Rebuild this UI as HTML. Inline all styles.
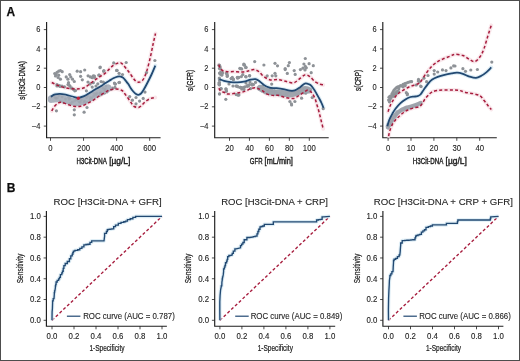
<!DOCTYPE html>
<html><head><meta charset="utf-8"><style>
html,body{margin:0;padding:0;background:#fff;}
body{width:520px;height:361px;overflow:hidden;}
svg{display:block;font-family:"Liberation Sans", sans-serif;}
</style></head><body>
<svg width="520" height="361" viewBox="0 0 520 361">
<defs><filter id="bl" x="0" y="0" width="520" height="361" filterUnits="userSpaceOnUse"><feGaussianBlur stdDeviation="0.3"/></filter></defs>
<g filter="url(#bl)">
<rect x="0" y="0" width="520" height="361" fill="#fff"/>
<path d="M46.6,22.0 V137.7 H160.6" fill="none" stroke="#1e1e1e" stroke-width="1.15"/>
<path d="M43.800000000000004,29.60 H46.6" stroke="#1e1e1e" stroke-width="0.8"/>
<text x="0" y="0" font-size="8.7" text-anchor="end" transform="translate(40.4 32.2) scale(0.86 1)" fill="#1c1c1c" stroke="#222" stroke-width="0.1">6</text>
<path d="M43.800000000000004,48.90 H46.6" stroke="#1e1e1e" stroke-width="0.8"/>
<text x="0" y="0" font-size="8.7" text-anchor="end" transform="translate(40.4 51.5) scale(0.86 1)" fill="#1c1c1c" stroke="#222" stroke-width="0.1">4</text>
<path d="M43.800000000000004,68.20 H46.6" stroke="#1e1e1e" stroke-width="0.8"/>
<text x="0" y="0" font-size="8.7" text-anchor="end" transform="translate(40.4 70.8) scale(0.86 1)" fill="#1c1c1c" stroke="#222" stroke-width="0.1">2</text>
<path d="M43.800000000000004,87.50 H46.6" stroke="#1e1e1e" stroke-width="0.8"/>
<text x="0" y="0" font-size="8.7" text-anchor="end" transform="translate(40.4 90.1) scale(0.86 1)" fill="#1c1c1c" stroke="#222" stroke-width="0.1">0</text>
<path d="M43.800000000000004,106.80 H46.6" stroke="#1e1e1e" stroke-width="0.8"/>
<text x="0" y="0" font-size="8.7" text-anchor="end" transform="translate(40.4 109.4) scale(0.86 1)" fill="#1c1c1c" stroke="#222" stroke-width="0.1">–2</text>
<path d="M43.800000000000004,126.10 H46.6" stroke="#1e1e1e" stroke-width="0.8"/>
<text x="0" y="0" font-size="8.7" text-anchor="end" transform="translate(40.4 128.7) scale(0.86 1)" fill="#1c1c1c" stroke="#222" stroke-width="0.1">–4</text>
<path d="M50.50,137.7 V140.79999999999998" stroke="#1e1e1e" stroke-width="0.8"/>
<text x="0" y="0" font-size="8.8" text-anchor="middle" transform="translate(50.5 151.0) scale(0.88 1)" fill="#1c1c1c" stroke="#222" stroke-width="0.1">0</text>
<path d="M83.56,137.7 V140.79999999999998" stroke="#1e1e1e" stroke-width="0.8"/>
<text x="0" y="0" font-size="8.8" text-anchor="middle" transform="translate(83.56 151.0) scale(0.88 1)" fill="#1c1c1c" stroke="#222" stroke-width="0.1">200</text>
<path d="M116.62,137.7 V140.79999999999998" stroke="#1e1e1e" stroke-width="0.8"/>
<text x="0" y="0" font-size="8.8" text-anchor="middle" transform="translate(116.62 151.0) scale(0.88 1)" fill="#1c1c1c" stroke="#222" stroke-width="0.1">400</text>
<path d="M149.68,137.7 V140.79999999999998" stroke="#1e1e1e" stroke-width="0.8"/>
<text x="0" y="0" font-size="8.8" text-anchor="middle" transform="translate(149.68 151.0) scale(0.88 1)" fill="#1c1c1c" stroke="#222" stroke-width="0.1">600</text>
<text x="76.4" y="164.0" font-size="8.9" textLength="30.4" lengthAdjust="spacingAndGlyphs" fill="#1c1c1c" stroke="#1c1c1c" stroke-width="0.4">H3Cit-DNA</text>
<text x="109.2" y="164.0" font-size="8.9" textLength="21.2" lengthAdjust="spacingAndGlyphs" fill="#1c1c1c" stroke="#1c1c1c" stroke-width="0.4">[µg/L]</text>
<text x="25.200000000000003" y="80.4" font-size="8.6" text-anchor="middle" textLength="38.5" lengthAdjust="spacingAndGlyphs" transform="rotate(-90 25.200000000000003 80.4)" fill="#1c1c1c" stroke="#1c1c1c" stroke-width="0.3">s(H3Cit-DNA)</text>
<path d="M214.7,22.0 V137.7 H328.7" fill="none" stroke="#1e1e1e" stroke-width="1.15"/>
<path d="M211.89999999999998,29.60 H214.7" stroke="#1e1e1e" stroke-width="0.8"/>
<text x="0" y="0" font-size="8.7" text-anchor="end" transform="translate(208.5 32.2) scale(0.86 1)" fill="#1c1c1c" stroke="#222" stroke-width="0.1">6</text>
<path d="M211.89999999999998,48.90 H214.7" stroke="#1e1e1e" stroke-width="0.8"/>
<text x="0" y="0" font-size="8.7" text-anchor="end" transform="translate(208.5 51.5) scale(0.86 1)" fill="#1c1c1c" stroke="#222" stroke-width="0.1">4</text>
<path d="M211.89999999999998,68.20 H214.7" stroke="#1e1e1e" stroke-width="0.8"/>
<text x="0" y="0" font-size="8.7" text-anchor="end" transform="translate(208.5 70.8) scale(0.86 1)" fill="#1c1c1c" stroke="#222" stroke-width="0.1">2</text>
<path d="M211.89999999999998,87.50 H214.7" stroke="#1e1e1e" stroke-width="0.8"/>
<text x="0" y="0" font-size="8.7" text-anchor="end" transform="translate(208.5 90.1) scale(0.86 1)" fill="#1c1c1c" stroke="#222" stroke-width="0.1">0</text>
<path d="M211.89999999999998,106.80 H214.7" stroke="#1e1e1e" stroke-width="0.8"/>
<text x="0" y="0" font-size="8.7" text-anchor="end" transform="translate(208.5 109.4) scale(0.86 1)" fill="#1c1c1c" stroke="#222" stroke-width="0.1">–2</text>
<path d="M211.89999999999998,126.10 H214.7" stroke="#1e1e1e" stroke-width="0.8"/>
<text x="0" y="0" font-size="8.7" text-anchor="end" transform="translate(208.5 128.7) scale(0.86 1)" fill="#1c1c1c" stroke="#222" stroke-width="0.1">–4</text>
<path d="M229.50,137.7 V140.79999999999998" stroke="#1e1e1e" stroke-width="0.8"/>
<text x="0" y="0" font-size="8.8" text-anchor="middle" transform="translate(229.5 151.0) scale(0.88 1)" fill="#1c1c1c" stroke="#222" stroke-width="0.1">20</text>
<path d="M249.45,137.7 V140.79999999999998" stroke="#1e1e1e" stroke-width="0.8"/>
<text x="0" y="0" font-size="8.8" text-anchor="middle" transform="translate(249.45 151.0) scale(0.88 1)" fill="#1c1c1c" stroke="#222" stroke-width="0.1">40</text>
<path d="M269.40,137.7 V140.79999999999998" stroke="#1e1e1e" stroke-width="0.8"/>
<text x="0" y="0" font-size="8.8" text-anchor="middle" transform="translate(269.4 151.0) scale(0.88 1)" fill="#1c1c1c" stroke="#222" stroke-width="0.1">60</text>
<path d="M289.35,137.7 V140.79999999999998" stroke="#1e1e1e" stroke-width="0.8"/>
<text x="0" y="0" font-size="8.8" text-anchor="middle" transform="translate(289.35 151.0) scale(0.88 1)" fill="#1c1c1c" stroke="#222" stroke-width="0.1">80</text>
<path d="M309.30,137.7 V140.79999999999998" stroke="#1e1e1e" stroke-width="0.8"/>
<text x="0" y="0" font-size="8.8" text-anchor="middle" transform="translate(309.3 151.0) scale(0.88 1)" fill="#1c1c1c" stroke="#222" stroke-width="0.1">100</text>
<text x="249.8" y="164.0" font-size="8.9" textLength="12.7" lengthAdjust="spacingAndGlyphs" fill="#1c1c1c" stroke="#1c1c1c" stroke-width="0.4">GFR</text>
<text x="264.6" y="164.0" font-size="8.9" textLength="28.3" lengthAdjust="spacingAndGlyphs" fill="#1c1c1c" stroke="#1c1c1c" stroke-width="0.4">[mL/min]</text>
<text x="193.29999999999998" y="80.4" font-size="8.6" text-anchor="middle" textLength="21.1" lengthAdjust="spacingAndGlyphs" transform="rotate(-90 193.29999999999998 80.4)" fill="#1c1c1c" stroke="#1c1c1c" stroke-width="0.3">s(GFR)</text>
<path d="M382.8,22.0 V137.7 H496.8" fill="none" stroke="#1e1e1e" stroke-width="1.15"/>
<path d="M380.0,29.60 H382.8" stroke="#1e1e1e" stroke-width="0.8"/>
<text x="0" y="0" font-size="8.7" text-anchor="end" transform="translate(376.6 32.2) scale(0.86 1)" fill="#1c1c1c" stroke="#222" stroke-width="0.1">6</text>
<path d="M380.0,48.90 H382.8" stroke="#1e1e1e" stroke-width="0.8"/>
<text x="0" y="0" font-size="8.7" text-anchor="end" transform="translate(376.6 51.5) scale(0.86 1)" fill="#1c1c1c" stroke="#222" stroke-width="0.1">4</text>
<path d="M380.0,68.20 H382.8" stroke="#1e1e1e" stroke-width="0.8"/>
<text x="0" y="0" font-size="8.7" text-anchor="end" transform="translate(376.6 70.8) scale(0.86 1)" fill="#1c1c1c" stroke="#222" stroke-width="0.1">2</text>
<path d="M380.0,87.50 H382.8" stroke="#1e1e1e" stroke-width="0.8"/>
<text x="0" y="0" font-size="8.7" text-anchor="end" transform="translate(376.6 90.1) scale(0.86 1)" fill="#1c1c1c" stroke="#222" stroke-width="0.1">0</text>
<path d="M380.0,106.80 H382.8" stroke="#1e1e1e" stroke-width="0.8"/>
<text x="0" y="0" font-size="8.7" text-anchor="end" transform="translate(376.6 109.4) scale(0.86 1)" fill="#1c1c1c" stroke="#222" stroke-width="0.1">–2</text>
<path d="M380.0,126.10 H382.8" stroke="#1e1e1e" stroke-width="0.8"/>
<text x="0" y="0" font-size="8.7" text-anchor="end" transform="translate(376.6 128.7) scale(0.86 1)" fill="#1c1c1c" stroke="#222" stroke-width="0.1">–4</text>
<path d="M388.10,137.7 V140.79999999999998" stroke="#1e1e1e" stroke-width="0.8"/>
<text x="0" y="0" font-size="8.8" text-anchor="middle" transform="translate(388.1 151.0) scale(0.88 1)" fill="#1c1c1c" stroke="#222" stroke-width="0.1">0</text>
<path d="M411.00,137.7 V140.79999999999998" stroke="#1e1e1e" stroke-width="0.8"/>
<text x="0" y="0" font-size="8.8" text-anchor="middle" transform="translate(411.0 151.0) scale(0.88 1)" fill="#1c1c1c" stroke="#222" stroke-width="0.1">10</text>
<path d="M433.90,137.7 V140.79999999999998" stroke="#1e1e1e" stroke-width="0.8"/>
<text x="0" y="0" font-size="8.8" text-anchor="middle" transform="translate(433.9 151.0) scale(0.88 1)" fill="#1c1c1c" stroke="#222" stroke-width="0.1">20</text>
<path d="M456.80,137.7 V140.79999999999998" stroke="#1e1e1e" stroke-width="0.8"/>
<text x="0" y="0" font-size="8.8" text-anchor="middle" transform="translate(456.8 151.0) scale(0.88 1)" fill="#1c1c1c" stroke="#222" stroke-width="0.1">30</text>
<path d="M479.70,137.7 V140.79999999999998" stroke="#1e1e1e" stroke-width="0.8"/>
<text x="0" y="0" font-size="8.8" text-anchor="middle" transform="translate(479.7 151.0) scale(0.88 1)" fill="#1c1c1c" stroke="#222" stroke-width="0.1">40</text>
<text x="412.8" y="164.0" font-size="8.9" textLength="30.6" lengthAdjust="spacingAndGlyphs" fill="#1c1c1c" stroke="#1c1c1c" stroke-width="0.4">H3Cit-DNA</text>
<text x="445.6" y="164.0" font-size="8.9" textLength="21.2" lengthAdjust="spacingAndGlyphs" fill="#1c1c1c" stroke="#1c1c1c" stroke-width="0.4">[µg/L]</text>
<text x="361.40000000000003" y="80.4" font-size="8.6" text-anchor="middle" textLength="21.1" lengthAdjust="spacingAndGlyphs" transform="rotate(-90 361.40000000000003 80.4)" fill="#1c1c1c" stroke="#1c1c1c" stroke-width="0.3">s(CRP)</text>
<path d="M51.80,82.50 C52.75,82.97 55.38,84.47 57.50,85.30 C59.62,86.13 62.00,86.92 64.50,87.50 C67.00,88.08 70.00,88.58 72.50,88.80 C75.00,89.02 77.42,89.03 79.50,88.80 C81.58,88.57 83.25,88.25 85.00,87.40 C86.75,86.55 88.33,84.93 90.00,83.70 C91.67,82.47 93.33,81.18 95.00,80.00 C96.67,78.82 98.33,77.72 100.00,76.60 C101.67,75.48 103.47,74.55 105.00,73.30 C106.53,72.05 107.82,70.42 109.20,69.10 C110.58,67.78 111.92,66.37 113.30,65.40 C114.68,64.43 116.25,63.72 117.50,63.30 C118.75,62.88 119.83,62.62 120.80,62.90 C121.77,63.18 122.33,63.97 123.30,65.00 C124.27,66.03 125.50,67.72 126.60,69.10 C127.70,70.48 128.78,71.77 129.90,73.30 C131.02,74.83 132.28,76.97 133.30,78.30 C134.32,79.63 135.10,80.65 136.00,81.30 C136.90,81.95 137.87,82.17 138.70,82.20 C139.53,82.23 140.20,82.03 141.00,81.50 C141.80,80.97 142.53,80.75 143.50,79.00 C144.47,77.25 145.65,74.67 146.80,71.00 C147.95,67.33 149.35,61.50 150.40,57.00 C151.45,52.50 152.25,47.92 153.10,44.00 C153.95,40.08 155.10,35.25 155.50,33.50" fill="none" stroke="#f8e1e6" stroke-width="3.9" stroke-linecap="round" stroke-linejoin="round" opacity="0.8"/>
<path d="M51.80,111.00 C52.18,110.32 53.15,108.15 54.10,106.90 C55.05,105.65 56.35,104.27 57.50,103.50 C58.65,102.73 59.45,102.22 61.00,102.30 C62.55,102.38 64.68,103.33 66.80,104.00 C68.92,104.67 71.40,105.92 73.70,106.30 C76.00,106.68 78.30,106.77 80.60,106.30 C82.90,105.83 85.18,104.65 87.50,103.50 C89.82,102.35 92.42,100.73 94.50,99.40 C96.58,98.07 97.88,96.87 100.00,95.50 C102.12,94.13 105.53,92.15 107.20,91.20 C108.87,90.25 108.50,90.17 110.00,89.80 C111.50,89.43 114.20,88.88 116.20,89.00 C118.20,89.12 120.53,89.67 122.00,90.50 C123.47,91.33 123.87,92.53 125.00,94.00 C126.13,95.47 127.63,97.63 128.80,99.30 C129.97,100.97 131.10,102.80 132.00,104.00 C132.90,105.20 133.08,105.93 134.20,106.50 C135.32,107.07 137.40,107.65 138.70,107.40 C140.00,107.15 140.95,105.90 142.00,105.00 C143.05,104.10 143.92,102.92 145.00,102.00 C146.08,101.08 147.30,100.17 148.50,99.50 C149.70,98.83 151.07,98.33 152.20,98.00 C153.33,97.67 154.78,97.58 155.30,97.50" fill="none" stroke="#f8e1e6" stroke-width="3.9" stroke-linecap="round" stroke-linejoin="round" opacity="0.8"/>
<path d="M51.00,96.80 C51.33,96.55 52.30,95.72 53.00,95.30 C53.70,94.88 54.07,94.55 55.20,94.30 C56.33,94.05 58.07,93.73 59.80,93.80 C61.53,93.87 63.48,94.25 65.60,94.70 C67.72,95.15 70.38,95.98 72.50,96.50 C74.62,97.02 76.37,97.85 78.30,97.80 C80.23,97.75 82.18,97.03 84.10,96.20 C86.02,95.37 87.98,93.92 89.80,92.80 C91.62,91.68 93.03,90.67 95.00,89.50 C96.97,88.33 99.93,86.83 101.60,85.80 C103.27,84.77 103.73,84.13 105.00,83.30 C106.27,82.47 107.82,81.63 109.20,80.80 C110.58,79.97 111.92,79.00 113.30,78.30 C114.68,77.60 116.25,76.88 117.50,76.60 C118.75,76.32 119.83,76.38 120.80,76.60 C121.77,76.82 122.47,77.20 123.30,77.90 C124.13,78.60 124.97,79.77 125.80,80.80 C126.63,81.83 127.47,82.85 128.30,84.10 C129.13,85.35 129.97,87.07 130.80,88.30 C131.63,89.53 132.43,90.55 133.30,91.50 C134.17,92.45 135.13,93.45 136.00,94.00 C136.87,94.55 137.67,94.88 138.50,94.80 C139.33,94.72 140.17,94.30 141.00,93.50 C141.83,92.70 142.53,91.58 143.50,90.00 C144.47,88.42 145.50,86.50 146.80,84.00 C148.10,81.50 149.88,78.05 151.30,75.00 C152.72,71.95 154.63,67.25 155.30,65.70" fill="none" stroke="#d6e8f3" stroke-width="4.0" stroke-linecap="round" stroke-linejoin="round" opacity="0.8"/>
<circle cx="110" cy="88.6" r="1.6" fill="#8e9297"/>
<circle cx="112.5" cy="88.2" r="1.6" fill="#8e9297"/>
<circle cx="115" cy="87.4" r="1.6" fill="#8e9297"/>
<circle cx="107" cy="91.8" r="1.6" fill="#8e9297"/>
<circle cx="104.5" cy="93" r="1.6" fill="#8e9297"/>
<circle cx="101.5" cy="94.2" r="1.6" fill="#8e9297"/>
<circle cx="99" cy="95.2" r="1.6" fill="#8e9297"/>
<circle cx="57" cy="84.5" r="1.6" fill="#8e9297"/>
<circle cx="59.5" cy="85.5" r="1.6" fill="#8e9297"/>
<circle cx="62" cy="86" r="1.6" fill="#8e9297"/>
<circle cx="64.5" cy="86.8" r="1.6" fill="#8e9297"/>
<circle cx="68" cy="84.5" r="1.6" fill="#8e9297"/>
<circle cx="70" cy="86" r="1.6" fill="#8e9297"/>
<circle cx="72" cy="88" r="1.6" fill="#8e9297"/>
<circle cx="73.5" cy="89.5" r="1.6" fill="#8e9297"/>
<circle cx="88" cy="82" r="1.6" fill="#8e9297"/>
<circle cx="90" cy="84" r="1.6" fill="#8e9297"/>
<circle cx="96" cy="86" r="1.6" fill="#8e9297"/>
<circle cx="99" cy="88" r="1.6" fill="#8e9297"/>
<circle cx="102" cy="90" r="1.6" fill="#8e9297"/>
<circle cx="105" cy="87" r="1.6" fill="#8e9297"/>
<circle cx="98" cy="93" r="1.6" fill="#8e9297"/>
<circle cx="104" cy="92" r="1.6" fill="#8e9297"/>
<circle cx="54.7" cy="73.5" r="1.6" fill="#8e9297"/>
<circle cx="57" cy="72.3" r="1.6" fill="#8e9297"/>
<circle cx="58.7" cy="71.2" r="1.6" fill="#8e9297"/>
<circle cx="60.4" cy="70.6" r="1.6" fill="#8e9297"/>
<circle cx="62.2" cy="71.7" r="1.6" fill="#8e9297"/>
<circle cx="58.7" cy="75.2" r="1.6" fill="#8e9297"/>
<circle cx="58.1" cy="77.5" r="1.6" fill="#8e9297"/>
<circle cx="60.4" cy="79.2" r="1.6" fill="#8e9297"/>
<circle cx="66.2" cy="76.9" r="1.6" fill="#8e9297"/>
<circle cx="67.9" cy="79.2" r="1.6" fill="#8e9297"/>
<circle cx="69.7" cy="74.6" r="1.6" fill="#8e9297"/>
<circle cx="70.8" cy="76.9" r="1.6" fill="#8e9297"/>
<circle cx="72.5" cy="79.2" r="1.6" fill="#8e9297"/>
<circle cx="74.3" cy="81.5" r="1.6" fill="#8e9297"/>
<circle cx="77.2" cy="71.2" r="1.6" fill="#8e9297"/>
<circle cx="80.6" cy="71.7" r="1.6" fill="#8e9297"/>
<circle cx="84.7" cy="70" r="1.6" fill="#8e9297"/>
<circle cx="80.6" cy="76.3" r="1.6" fill="#8e9297"/>
<circle cx="82.3" cy="79.8" r="1.6" fill="#8e9297"/>
<circle cx="88.1" cy="75.8" r="1.6" fill="#8e9297"/>
<circle cx="90.4" cy="76.9" r="1.6" fill="#8e9297"/>
<circle cx="93.3" cy="75.8" r="1.6" fill="#8e9297"/>
<circle cx="94.5" cy="77.5" r="1.6" fill="#8e9297"/>
<circle cx="100.2" cy="67.1" r="1.6" fill="#8e9297"/>
<circle cx="99.1" cy="75.2" r="1.6" fill="#8e9297"/>
<circle cx="68.5" cy="82.7" r="1.6" fill="#8e9297"/>
<circle cx="56" cy="74.5" r="1.6" fill="#8e9297"/>
<circle cx="55.5" cy="76" r="1.6" fill="#8e9297"/>
<circle cx="57" cy="86" r="1.6" fill="#8e9297"/>
<circle cx="60" cy="86.5" r="1.6" fill="#8e9297"/>
<circle cx="69" cy="85" r="1.6" fill="#8e9297"/>
<circle cx="71" cy="88" r="1.6" fill="#8e9297"/>
<circle cx="75.5" cy="90.5" r="1.6" fill="#8e9297"/>
<circle cx="86.4" cy="90.8" r="1.6" fill="#8e9297"/>
<circle cx="92.2" cy="77.7" r="1.6" fill="#8e9297"/>
<circle cx="94.4" cy="76.1" r="1.6" fill="#8e9297"/>
<circle cx="98.9" cy="75" r="1.6" fill="#8e9297"/>
<circle cx="103.9" cy="70.5" r="1.6" fill="#8e9297"/>
<circle cx="113.7" cy="62.9" r="1.6" fill="#8e9297"/>
<circle cx="126.2" cy="62.5" r="1.6" fill="#8e9297"/>
<circle cx="116.6" cy="70.4" r="1.6" fill="#8e9297"/>
<circle cx="119.1" cy="73.3" r="1.6" fill="#8e9297"/>
<circle cx="122.5" cy="74.5" r="1.6" fill="#8e9297"/>
<circle cx="93.3" cy="82.7" r="1.6" fill="#8e9297"/>
<circle cx="97.8" cy="83.8" r="1.6" fill="#8e9297"/>
<circle cx="101.1" cy="81.6" r="1.6" fill="#8e9297"/>
<circle cx="103.3" cy="82.1" r="1.6" fill="#8e9297"/>
<circle cx="114.9" cy="83.8" r="1.6" fill="#8e9297"/>
<circle cx="119.5" cy="82.4" r="1.6" fill="#8e9297"/>
<circle cx="115.4" cy="84.1" r="1.6" fill="#8e9297"/>
<circle cx="108.3" cy="86.6" r="1.6" fill="#8e9297"/>
<circle cx="111.2" cy="89.1" r="1.6" fill="#8e9297"/>
<circle cx="103.3" cy="89.3" r="1.6" fill="#8e9297"/>
<circle cx="100" cy="91.6" r="1.6" fill="#8e9297"/>
<circle cx="96.6" cy="92.1" r="1.6" fill="#8e9297"/>
<circle cx="92.2" cy="87.1" r="1.6" fill="#8e9297"/>
<circle cx="103.6" cy="71.3" r="1.6" fill="#8e9297"/>
<circle cx="100" cy="67.7" r="1.6" fill="#8e9297"/>
<circle cx="117.1" cy="70.4" r="1.6" fill="#8e9297"/>
<circle cx="146.5" cy="72.6" r="1.6" fill="#8e9297"/>
<circle cx="154.9" cy="60.5" r="1.6" fill="#8e9297"/>
<circle cx="114.4" cy="83.1" r="1.6" fill="#8e9297"/>
<circle cx="118.9" cy="82.6" r="1.6" fill="#8e9297"/>
<circle cx="108.1" cy="87.2" r="1.6" fill="#8e9297"/>
<circle cx="103.6" cy="88.5" r="1.6" fill="#8e9297"/>
<circle cx="129.7" cy="96.6" r="1.6" fill="#8e9297"/>
<circle cx="132.4" cy="100.2" r="1.6" fill="#8e9297"/>
<circle cx="136" cy="97.5" r="1.6" fill="#8e9297"/>
<circle cx="136" cy="103.8" r="1.6" fill="#8e9297"/>
<circle cx="139.6" cy="101.1" r="1.6" fill="#8e9297"/>
<circle cx="143.2" cy="98.4" r="1.6" fill="#8e9297"/>
<circle cx="145" cy="92.1" r="1.6" fill="#8e9297"/>
<circle cx="56.4" cy="110.8" r="1.6" fill="#8e9297"/>
<circle cx="74.3" cy="109.8" r="1.6" fill="#8e9297"/>
<circle cx="74.3" cy="114.8" r="1.6" fill="#8e9297"/>
<circle cx="84.1" cy="112.2" r="1.6" fill="#8e9297"/>
<circle cx="87" cy="107.5" r="1.6" fill="#8e9297"/>
<circle cx="74.8" cy="90.8" r="1.6" fill="#8e9297"/>
<path d="M51.50,99.10 C52.25,98.98 54.58,98.48 56.00,98.40 C57.42,98.32 58.33,98.35 60.00,98.60 C61.67,98.85 64.00,99.40 66.00,99.90 C68.00,100.40 70.00,101.18 72.00,101.60 C74.00,102.02 76.00,102.53 78.00,102.40 C80.00,102.27 82.00,101.58 84.00,100.80 C86.00,100.02 88.17,98.73 90.00,97.70 C91.83,96.67 93.33,95.62 95.00,94.60 C96.67,93.58 98.50,92.45 100.00,91.60 C101.50,90.75 102.67,90.08 104.00,89.50 C105.33,88.92 107.33,88.33 108.00,88.10" fill="none" stroke="#abb2bd" stroke-width="7.6" stroke-linecap="round" stroke-linejoin="round"/>
<circle cx="51.60" cy="96.54" r="1.35" fill="#9ca2ab" fill-opacity="0.6"/>
<circle cx="53.50" cy="95.67" r="1.35" fill="#9ca2ab" fill-opacity="0.6"/>
<circle cx="55.16" cy="97.55" r="1.35" fill="#9ca2ab" fill-opacity="0.6"/>
<circle cx="56.07" cy="98.46" r="1.35" fill="#9ca2ab" fill-opacity="0.6"/>
<circle cx="57.41" cy="97.99" r="1.35" fill="#9ca2ab" fill-opacity="0.6"/>
<circle cx="58.91" cy="95.59" r="1.35" fill="#9ca2ab" fill-opacity="0.6"/>
<circle cx="60.14" cy="101.04" r="1.35" fill="#9ca2ab" fill-opacity="0.6"/>
<circle cx="62.11" cy="97.02" r="1.35" fill="#9ca2ab" fill-opacity="0.6"/>
<circle cx="63.26" cy="102.60" r="1.35" fill="#9ca2ab" fill-opacity="0.6"/>
<circle cx="65.52" cy="99.04" r="1.35" fill="#9ca2ab" fill-opacity="0.6"/>
<circle cx="68.35" cy="97.17" r="1.35" fill="#9ca2ab" fill-opacity="0.6"/>
<circle cx="69.20" cy="99.23" r="1.35" fill="#9ca2ab" fill-opacity="0.6"/>
<circle cx="69.97" cy="98.16" r="1.35" fill="#9ca2ab" fill-opacity="0.6"/>
<circle cx="70.34" cy="103.50" r="1.35" fill="#9ca2ab" fill-opacity="0.6"/>
<circle cx="72.19" cy="102.22" r="1.35" fill="#9ca2ab" fill-opacity="0.6"/>
<circle cx="74.58" cy="101.02" r="1.35" fill="#9ca2ab" fill-opacity="0.6"/>
<circle cx="76.24" cy="98.99" r="1.35" fill="#9ca2ab" fill-opacity="0.6"/>
<circle cx="76.87" cy="100.11" r="1.35" fill="#9ca2ab" fill-opacity="0.6"/>
<circle cx="78.89" cy="101.62" r="1.35" fill="#9ca2ab" fill-opacity="0.6"/>
<circle cx="80.13" cy="102.47" r="1.35" fill="#9ca2ab" fill-opacity="0.6"/>
<circle cx="81.31" cy="100.03" r="1.35" fill="#9ca2ab" fill-opacity="0.6"/>
<circle cx="84.06" cy="102.27" r="1.35" fill="#9ca2ab" fill-opacity="0.6"/>
<circle cx="84.54" cy="101.12" r="1.35" fill="#9ca2ab" fill-opacity="0.6"/>
<circle cx="87.07" cy="102.25" r="1.35" fill="#9ca2ab" fill-opacity="0.6"/>
<circle cx="86.57" cy="97.75" r="1.35" fill="#9ca2ab" fill-opacity="0.6"/>
<circle cx="87.51" cy="95.89" r="1.35" fill="#9ca2ab" fill-opacity="0.6"/>
<circle cx="90.15" cy="99.71" r="1.35" fill="#9ca2ab" fill-opacity="0.6"/>
<circle cx="90.15" cy="97.51" r="1.35" fill="#9ca2ab" fill-opacity="0.6"/>
<circle cx="91.94" cy="97.92" r="1.35" fill="#9ca2ab" fill-opacity="0.6"/>
<circle cx="93.73" cy="96.00" r="1.35" fill="#9ca2ab" fill-opacity="0.6"/>
<circle cx="94.14" cy="93.56" r="1.35" fill="#9ca2ab" fill-opacity="0.6"/>
<circle cx="96.22" cy="94.66" r="1.35" fill="#9ca2ab" fill-opacity="0.6"/>
<circle cx="96.81" cy="93.14" r="1.35" fill="#9ca2ab" fill-opacity="0.6"/>
<circle cx="100.20" cy="95.22" r="1.35" fill="#9ca2ab" fill-opacity="0.6"/>
<circle cx="99.95" cy="93.01" r="1.35" fill="#9ca2ab" fill-opacity="0.6"/>
<circle cx="100.76" cy="92.84" r="1.35" fill="#9ca2ab" fill-opacity="0.6"/>
<circle cx="103.85" cy="93.59" r="1.35" fill="#9ca2ab" fill-opacity="0.6"/>
<circle cx="103.04" cy="88.25" r="1.35" fill="#9ca2ab" fill-opacity="0.6"/>
<circle cx="104.92" cy="90.47" r="1.35" fill="#9ca2ab" fill-opacity="0.6"/>
<circle cx="105.27" cy="88.76" r="1.35" fill="#9ca2ab" fill-opacity="0.6"/>
<circle cx="105.98" cy="85.89" r="1.35" fill="#9ca2ab" fill-opacity="0.6"/>
<path d="M51.80,82.50 C52.75,82.97 55.38,84.47 57.50,85.30 C59.62,86.13 62.00,86.92 64.50,87.50 C67.00,88.08 70.00,88.58 72.50,88.80 C75.00,89.02 77.42,89.03 79.50,88.80 C81.58,88.57 83.25,88.25 85.00,87.40 C86.75,86.55 88.33,84.93 90.00,83.70 C91.67,82.47 93.33,81.18 95.00,80.00 C96.67,78.82 98.33,77.72 100.00,76.60 C101.67,75.48 103.47,74.55 105.00,73.30 C106.53,72.05 107.82,70.42 109.20,69.10 C110.58,67.78 111.92,66.37 113.30,65.40 C114.68,64.43 116.25,63.72 117.50,63.30 C118.75,62.88 119.83,62.62 120.80,62.90 C121.77,63.18 122.33,63.97 123.30,65.00 C124.27,66.03 125.50,67.72 126.60,69.10 C127.70,70.48 128.78,71.77 129.90,73.30 C131.02,74.83 132.28,76.97 133.30,78.30 C134.32,79.63 135.10,80.65 136.00,81.30 C136.90,81.95 137.87,82.17 138.70,82.20 C139.53,82.23 140.20,82.03 141.00,81.50 C141.80,80.97 142.53,80.75 143.50,79.00 C144.47,77.25 145.65,74.67 146.80,71.00 C147.95,67.33 149.35,61.50 150.40,57.00 C151.45,52.50 152.25,47.92 153.10,44.00 C153.95,40.08 155.10,35.25 155.50,33.50" fill="none" stroke="#a61b3c" stroke-width="1.5" stroke-dasharray="3 2.2" stroke-linecap="butt"/>
<path d="M51.80,111.00 C52.18,110.32 53.15,108.15 54.10,106.90 C55.05,105.65 56.35,104.27 57.50,103.50 C58.65,102.73 59.45,102.22 61.00,102.30 C62.55,102.38 64.68,103.33 66.80,104.00 C68.92,104.67 71.40,105.92 73.70,106.30 C76.00,106.68 78.30,106.77 80.60,106.30 C82.90,105.83 85.18,104.65 87.50,103.50 C89.82,102.35 92.42,100.73 94.50,99.40 C96.58,98.07 97.88,96.87 100.00,95.50 C102.12,94.13 105.53,92.15 107.20,91.20 C108.87,90.25 108.50,90.17 110.00,89.80 C111.50,89.43 114.20,88.88 116.20,89.00 C118.20,89.12 120.53,89.67 122.00,90.50 C123.47,91.33 123.87,92.53 125.00,94.00 C126.13,95.47 127.63,97.63 128.80,99.30 C129.97,100.97 131.10,102.80 132.00,104.00 C132.90,105.20 133.08,105.93 134.20,106.50 C135.32,107.07 137.40,107.65 138.70,107.40 C140.00,107.15 140.95,105.90 142.00,105.00 C143.05,104.10 143.92,102.92 145.00,102.00 C146.08,101.08 147.30,100.17 148.50,99.50 C149.70,98.83 151.07,98.33 152.20,98.00 C153.33,97.67 154.78,97.58 155.30,97.50" fill="none" stroke="#a61b3c" stroke-width="1.5" stroke-dasharray="3 2.2" stroke-linecap="butt"/>
<path d="M51.00,96.80 C51.33,96.55 52.30,95.72 53.00,95.30 C53.70,94.88 54.07,94.55 55.20,94.30 C56.33,94.05 58.07,93.73 59.80,93.80 C61.53,93.87 63.48,94.25 65.60,94.70 C67.72,95.15 70.38,95.98 72.50,96.50 C74.62,97.02 76.37,97.85 78.30,97.80 C80.23,97.75 82.18,97.03 84.10,96.20 C86.02,95.37 87.98,93.92 89.80,92.80 C91.62,91.68 93.03,90.67 95.00,89.50 C96.97,88.33 99.93,86.83 101.60,85.80 C103.27,84.77 103.73,84.13 105.00,83.30 C106.27,82.47 107.82,81.63 109.20,80.80 C110.58,79.97 111.92,79.00 113.30,78.30 C114.68,77.60 116.25,76.88 117.50,76.60 C118.75,76.32 119.83,76.38 120.80,76.60 C121.77,76.82 122.47,77.20 123.30,77.90 C124.13,78.60 124.97,79.77 125.80,80.80 C126.63,81.83 127.47,82.85 128.30,84.10 C129.13,85.35 129.97,87.07 130.80,88.30 C131.63,89.53 132.43,90.55 133.30,91.50 C134.17,92.45 135.13,93.45 136.00,94.00 C136.87,94.55 137.67,94.88 138.50,94.80 C139.33,94.72 140.17,94.30 141.00,93.50 C141.83,92.70 142.53,91.58 143.50,90.00 C144.47,88.42 145.50,86.50 146.80,84.00 C148.10,81.50 149.88,78.05 151.30,75.00 C152.72,71.95 154.63,67.25 155.30,65.70" fill="none" stroke="#214872" stroke-width="1.8" stroke-linecap="butt"/>
<path d="M218.80,64.70 C219.15,65.47 219.77,68.15 220.90,69.30 C222.03,70.45 223.42,71.22 225.60,71.60 C227.78,71.98 231.22,71.52 234.00,71.60 C236.78,71.68 239.82,72.23 242.30,72.10 C244.78,71.97 246.97,71.22 248.90,70.80 C250.83,70.38 252.23,69.47 253.90,69.60 C255.57,69.73 257.23,70.43 258.90,71.60 C260.57,72.77 261.97,75.22 263.90,76.60 C265.83,77.98 268.10,79.40 270.50,79.90 C272.90,80.40 275.62,79.32 278.30,79.60 C280.98,79.88 284.10,81.05 286.60,81.60 C289.10,82.15 291.35,83.18 293.30,82.90 C295.25,82.62 296.37,81.23 298.30,79.90 C300.23,78.57 302.97,75.45 304.90,74.90 C306.83,74.35 308.23,75.48 309.90,76.60 C311.57,77.72 313.23,80.35 314.90,81.60 C316.57,82.85 318.52,83.55 319.90,84.10 C321.28,84.65 322.65,84.77 323.20,84.90" fill="none" stroke="#f8e1e6" stroke-width="3.9" stroke-linecap="round" stroke-linejoin="round" opacity="0.8"/>
<path d="M218.80,88.20 C219.15,88.67 219.85,90.23 220.90,91.00 C221.95,91.77 224.03,92.28 225.10,92.80 C226.17,93.32 225.55,94.03 227.30,94.10 C229.05,94.17 232.83,93.62 235.60,93.20 C238.37,92.78 241.13,92.43 243.90,91.60 C246.67,90.77 249.98,88.77 252.20,88.20 C254.42,87.63 255.53,87.78 257.20,88.20 C258.87,88.62 260.53,89.72 262.20,90.70 C263.87,91.68 265.23,93.30 267.20,94.10 C269.17,94.90 272.20,95.30 274.00,95.50 C275.80,95.70 276.17,94.98 278.00,95.30 C279.83,95.62 282.45,96.87 285.00,97.40 C287.55,97.93 290.82,98.92 293.30,98.50 C295.78,98.08 297.95,96.07 299.90,94.90 C301.85,93.73 303.62,92.32 305.00,91.50 C306.38,90.68 307.12,89.83 308.20,90.00 C309.28,90.17 310.38,91.12 311.50,92.50 C312.62,93.88 313.98,96.22 314.90,98.30 C315.82,100.38 316.30,102.68 317.00,105.00 C317.70,107.32 318.43,109.70 319.10,112.20 C319.77,114.70 320.32,117.23 321.00,120.00 C321.68,122.77 322.83,127.33 323.20,128.80" fill="none" stroke="#f8e1e6" stroke-width="3.9" stroke-linecap="round" stroke-linejoin="round" opacity="0.8"/>
<path d="M219.50,79.20 C220.25,79.47 222.15,80.32 224.00,80.80 C225.85,81.28 228.38,81.83 230.60,82.10 C232.82,82.37 235.08,82.48 237.30,82.40 C239.52,82.32 241.68,82.07 243.90,81.60 C246.12,81.13 248.67,80.02 250.60,79.60 C252.53,79.18 254.12,78.90 255.50,79.10 C256.88,79.30 257.50,79.83 258.90,80.80 C260.30,81.77 262.25,83.80 263.90,84.90 C265.55,86.00 267.12,86.85 268.80,87.40 C270.48,87.95 272.70,88.07 274.00,88.20 C275.30,88.33 275.05,88.05 276.60,88.20 C278.15,88.35 281.08,88.68 283.30,89.10 C285.52,89.52 287.97,90.48 289.90,90.70 C291.83,90.92 293.23,90.95 294.90,90.40 C296.57,89.85 298.23,88.53 299.90,87.40 C301.57,86.27 303.33,84.10 304.90,83.60 C306.47,83.10 308.15,83.95 309.30,84.40 C310.45,84.85 310.95,85.37 311.80,86.30 C312.65,87.23 313.53,88.63 314.40,90.00 C315.27,91.37 316.15,93.00 317.00,94.50 C317.85,96.00 318.75,97.58 319.50,99.00 C320.25,100.42 320.83,101.53 321.50,103.00 C322.17,104.47 323.17,107.00 323.50,107.80" fill="none" stroke="#d6e8f3" stroke-width="4.0" stroke-linecap="round" stroke-linejoin="round" opacity="0.8"/>
<circle cx="219" cy="65.2" r="1.6" fill="#8e9297"/>
<circle cx="220.1" cy="66.9" r="1.6" fill="#8e9297"/>
<circle cx="219.5" cy="68.5" r="1.6" fill="#8e9297"/>
<circle cx="220.6" cy="72.4" r="1.6" fill="#8e9297"/>
<circle cx="222.3" cy="73.5" r="1.6" fill="#8e9297"/>
<circle cx="220.1" cy="74.1" r="1.6" fill="#8e9297"/>
<circle cx="221.8" cy="75.2" r="1.6" fill="#8e9297"/>
<circle cx="226.7" cy="73.5" r="1.6" fill="#8e9297"/>
<circle cx="227.3" cy="75.7" r="1.6" fill="#8e9297"/>
<circle cx="231.2" cy="78.5" r="1.6" fill="#8e9297"/>
<circle cx="233.4" cy="79.6" r="1.6" fill="#8e9297"/>
<circle cx="237.8" cy="78" r="1.6" fill="#8e9297"/>
<circle cx="238.9" cy="77.4" r="1.6" fill="#8e9297"/>
<circle cx="240.6" cy="68.5" r="1.6" fill="#8e9297"/>
<circle cx="244.5" cy="65.2" r="1.6" fill="#8e9297"/>
<circle cx="246.1" cy="67.4" r="1.6" fill="#8e9297"/>
<circle cx="242.8" cy="74.6" r="1.6" fill="#8e9297"/>
<circle cx="246.1" cy="76.8" r="1.6" fill="#8e9297"/>
<circle cx="249.5" cy="75.7" r="1.6" fill="#8e9297"/>
<circle cx="219" cy="82.9" r="1.6" fill="#8e9297"/>
<circle cx="219" cy="84.6" r="1.6" fill="#8e9297"/>
<circle cx="221.2" cy="88.5" r="1.6" fill="#8e9297"/>
<circle cx="226.2" cy="89" r="1.6" fill="#8e9297"/>
<circle cx="226.2" cy="91.2" r="1.6" fill="#8e9297"/>
<circle cx="219.5" cy="94" r="1.6" fill="#8e9297"/>
<circle cx="237.3" cy="86.3" r="1.6" fill="#8e9297"/>
<circle cx="240.6" cy="87.4" r="1.6" fill="#8e9297"/>
<circle cx="242.8" cy="87.9" r="1.6" fill="#8e9297"/>
<circle cx="245" cy="86.8" r="1.6" fill="#8e9297"/>
<circle cx="247.2" cy="86.3" r="1.6" fill="#8e9297"/>
<circle cx="243.9" cy="89.6" r="1.6" fill="#8e9297"/>
<circle cx="241.7" cy="89" r="1.6" fill="#8e9297"/>
<circle cx="249.5" cy="84.6" r="1.6" fill="#8e9297"/>
<circle cx="252.2" cy="84" r="1.6" fill="#8e9297"/>
<circle cx="236.2" cy="94.6" r="1.6" fill="#8e9297"/>
<circle cx="250.6" cy="88.5" r="1.6" fill="#8e9297"/>
<circle cx="254.7" cy="61.6" r="1.6" fill="#8e9297"/>
<circle cx="263.9" cy="65" r="1.6" fill="#8e9297"/>
<circle cx="243.9" cy="64.1" r="1.6" fill="#8e9297"/>
<circle cx="245.6" cy="67.5" r="1.6" fill="#8e9297"/>
<circle cx="239.8" cy="68.3" r="1.6" fill="#8e9297"/>
<circle cx="219.5" cy="65.4" r="1.6" fill="#8e9297"/>
<circle cx="220.2" cy="68.9" r="1.6" fill="#8e9297"/>
<circle cx="219.5" cy="73" r="1.6" fill="#8e9297"/>
<circle cx="221.6" cy="73.7" r="1.6" fill="#8e9297"/>
<circle cx="227.2" cy="75.1" r="1.6" fill="#8e9297"/>
<circle cx="227.2" cy="76.5" r="1.6" fill="#8e9297"/>
<circle cx="231.3" cy="78.5" r="1.6" fill="#8e9297"/>
<circle cx="233.4" cy="79.2" r="1.6" fill="#8e9297"/>
<circle cx="237.5" cy="77.9" r="1.6" fill="#8e9297"/>
<circle cx="226.5" cy="73.3" r="1.6" fill="#8e9297"/>
<circle cx="232.3" cy="77.4" r="1.6" fill="#8e9297"/>
<circle cx="237.3" cy="77.4" r="1.6" fill="#8e9297"/>
<circle cx="241.4" cy="76.6" r="1.6" fill="#8e9297"/>
<circle cx="245.6" cy="76.6" r="1.6" fill="#8e9297"/>
<circle cx="249.7" cy="75.8" r="1.6" fill="#8e9297"/>
<circle cx="267.2" cy="75.8" r="1.6" fill="#8e9297"/>
<circle cx="272.2" cy="75.8" r="1.6" fill="#8e9297"/>
<circle cx="219.5" cy="82.7" r="1.6" fill="#8e9297"/>
<circle cx="219.5" cy="84.8" r="1.6" fill="#8e9297"/>
<circle cx="220.9" cy="88.9" r="1.6" fill="#8e9297"/>
<circle cx="225.8" cy="88.9" r="1.6" fill="#8e9297"/>
<circle cx="226.5" cy="91" r="1.6" fill="#8e9297"/>
<circle cx="219.5" cy="93.8" r="1.6" fill="#8e9297"/>
<circle cx="225.8" cy="99.3" r="1.6" fill="#8e9297"/>
<circle cx="238.2" cy="95.2" r="1.6" fill="#8e9297"/>
<circle cx="236.9" cy="86.2" r="1.6" fill="#8e9297"/>
<circle cx="241" cy="87.5" r="1.6" fill="#8e9297"/>
<circle cx="241.7" cy="68.9" r="1.6" fill="#8e9297"/>
<circle cx="243.8" cy="64.7" r="1.6" fill="#8e9297"/>
<circle cx="240.6" cy="87.4" r="1.6" fill="#8e9297"/>
<circle cx="243.9" cy="87.4" r="1.6" fill="#8e9297"/>
<circle cx="247.2" cy="85.7" r="1.6" fill="#8e9297"/>
<circle cx="252.2" cy="84.9" r="1.6" fill="#8e9297"/>
<circle cx="255.5" cy="82.4" r="1.6" fill="#8e9297"/>
<circle cx="238.9" cy="94.9" r="1.6" fill="#8e9297"/>
<circle cx="263.9" cy="88.2" r="1.6" fill="#8e9297"/>
<circle cx="270.5" cy="89.1" r="1.6" fill="#8e9297"/>
<circle cx="262.2" cy="86.6" r="1.6" fill="#8e9297"/>
<circle cx="305.3" cy="58.5" r="1.6" fill="#8e9297"/>
<circle cx="289.4" cy="62.6" r="1.6" fill="#8e9297"/>
<circle cx="288.3" cy="65.7" r="1.6" fill="#8e9297"/>
<circle cx="285.2" cy="68.5" r="1.6" fill="#8e9297"/>
<circle cx="285.2" cy="69.6" r="1.6" fill="#8e9297"/>
<circle cx="294.2" cy="70.6" r="1.6" fill="#8e9297"/>
<circle cx="287.3" cy="73.4" r="1.6" fill="#8e9297"/>
<circle cx="295.2" cy="74.4" r="1.6" fill="#8e9297"/>
<circle cx="303.9" cy="64" r="1.6" fill="#8e9297"/>
<circle cx="309.1" cy="63.7" r="1.6" fill="#8e9297"/>
<circle cx="313.3" cy="65.7" r="1.6" fill="#8e9297"/>
<circle cx="300.4" cy="69.6" r="1.6" fill="#8e9297"/>
<circle cx="302.9" cy="68.2" r="1.6" fill="#8e9297"/>
<circle cx="305.3" cy="66.4" r="1.6" fill="#8e9297"/>
<circle cx="306.3" cy="67.8" r="1.6" fill="#8e9297"/>
<circle cx="305" cy="69.9" r="1.6" fill="#8e9297"/>
<circle cx="311.2" cy="72.7" r="1.6" fill="#8e9297"/>
<circle cx="275" cy="63.3" r="1.6" fill="#8e9297"/>
<circle cx="277.5" cy="65.8" r="1.6" fill="#8e9297"/>
<circle cx="275" cy="73.3" r="1.6" fill="#8e9297"/>
<circle cx="275.8" cy="75.8" r="1.6" fill="#8e9297"/>
<circle cx="271.7" cy="84.1" r="1.6" fill="#8e9297"/>
<circle cx="289.9" cy="101.5" r="1.6" fill="#8e9297"/>
<circle cx="291.6" cy="104.9" r="1.6" fill="#8e9297"/>
<circle cx="294.9" cy="101.5" r="1.6" fill="#8e9297"/>
<circle cx="301.6" cy="98.2" r="1.6" fill="#8e9297"/>
<circle cx="305.7" cy="93.2" r="1.6" fill="#8e9297"/>
<circle cx="323.2" cy="108.7" r="1.6" fill="#8e9297"/>
<circle cx="312.2" cy="97.6" r="1.6" fill="#8e9297"/>
<circle cx="291.4" cy="103.8" r="1.6" fill="#8e9297"/>
<circle cx="229" cy="84" r="1.6" fill="#8e9297"/>
<circle cx="233" cy="86" r="1.6" fill="#8e9297"/>
<circle cx="246" cy="83" r="1.6" fill="#8e9297"/>
<circle cx="250" cy="82" r="1.6" fill="#8e9297"/>
<circle cx="236" cy="86" r="1.6" fill="#8e9297"/>
<circle cx="238.5" cy="87" r="1.6" fill="#8e9297"/>
<circle cx="243.5" cy="87.8" r="1.6" fill="#8e9297"/>
<circle cx="248.5" cy="85.8" r="1.6" fill="#8e9297"/>
<circle cx="253.5" cy="84.5" r="1.6" fill="#8e9297"/>
<circle cx="219.3" cy="78" r="1.6" fill="#8e9297"/>
<circle cx="219.5" cy="80" r="1.6" fill="#8e9297"/>
<circle cx="222.5" cy="72.5" r="1.6" fill="#8e9297"/>
<path d="M260.00,88.00 C260.83,88.42 263.33,89.83 265.00,90.50 C266.67,91.17 268.00,91.62 270.00,92.00 C272.00,92.38 274.67,92.55 277.00,92.80 C279.33,93.05 281.83,93.27 284.00,93.50 C286.17,93.73 288.00,94.28 290.00,94.20 C292.00,94.12 294.17,93.53 296.00,93.00 C297.83,92.47 299.50,91.62 301.00,91.00 C302.50,90.38 303.67,89.42 305.00,89.30 C306.33,89.18 308.33,90.13 309.00,90.30" fill="none" stroke="#a0a5ad" stroke-width="6.4" stroke-linecap="round" stroke-linejoin="round"/>
<circle cx="259.35" cy="89.48" r="1.35" fill="#9ca2ab" fill-opacity="0.6"/>
<circle cx="262.09" cy="87.35" r="1.35" fill="#9ca2ab" fill-opacity="0.6"/>
<circle cx="261.99" cy="91.49" r="1.35" fill="#9ca2ab" fill-opacity="0.6"/>
<circle cx="263.99" cy="89.65" r="1.35" fill="#9ca2ab" fill-opacity="0.6"/>
<circle cx="265.03" cy="92.91" r="1.35" fill="#9ca2ab" fill-opacity="0.6"/>
<circle cx="266.65" cy="93.27" r="1.35" fill="#9ca2ab" fill-opacity="0.6"/>
<circle cx="267.99" cy="90.87" r="1.35" fill="#9ca2ab" fill-opacity="0.6"/>
<circle cx="268.54" cy="93.97" r="1.35" fill="#9ca2ab" fill-opacity="0.6"/>
<circle cx="271.58" cy="90.07" r="1.35" fill="#9ca2ab" fill-opacity="0.6"/>
<circle cx="271.83" cy="90.59" r="1.35" fill="#9ca2ab" fill-opacity="0.6"/>
<circle cx="273.14" cy="92.27" r="1.35" fill="#9ca2ab" fill-opacity="0.6"/>
<circle cx="275.19" cy="91.16" r="1.35" fill="#9ca2ab" fill-opacity="0.6"/>
<circle cx="275.66" cy="92.16" r="1.35" fill="#9ca2ab" fill-opacity="0.6"/>
<circle cx="277.48" cy="93.25" r="1.35" fill="#9ca2ab" fill-opacity="0.6"/>
<circle cx="279.62" cy="94.21" r="1.35" fill="#9ca2ab" fill-opacity="0.6"/>
<circle cx="280.45" cy="93.85" r="1.35" fill="#9ca2ab" fill-opacity="0.6"/>
<circle cx="282.41" cy="90.65" r="1.35" fill="#9ca2ab" fill-opacity="0.6"/>
<circle cx="283.69" cy="95.16" r="1.35" fill="#9ca2ab" fill-opacity="0.6"/>
<circle cx="285.10" cy="95.43" r="1.35" fill="#9ca2ab" fill-opacity="0.6"/>
<circle cx="286.16" cy="93.14" r="1.35" fill="#9ca2ab" fill-opacity="0.6"/>
<circle cx="287.06" cy="94.67" r="1.35" fill="#9ca2ab" fill-opacity="0.6"/>
<circle cx="288.89" cy="91.46" r="1.35" fill="#9ca2ab" fill-opacity="0.6"/>
<circle cx="289.92" cy="92.15" r="1.35" fill="#9ca2ab" fill-opacity="0.6"/>
<circle cx="291.48" cy="91.17" r="1.35" fill="#9ca2ab" fill-opacity="0.6"/>
<circle cx="292.59" cy="91.55" r="1.35" fill="#9ca2ab" fill-opacity="0.6"/>
<circle cx="294.49" cy="92.47" r="1.35" fill="#9ca2ab" fill-opacity="0.6"/>
<circle cx="296.87" cy="95.07" r="1.35" fill="#9ca2ab" fill-opacity="0.6"/>
<circle cx="297.23" cy="90.24" r="1.35" fill="#9ca2ab" fill-opacity="0.6"/>
<circle cx="298.48" cy="91.02" r="1.35" fill="#9ca2ab" fill-opacity="0.6"/>
<circle cx="299.36" cy="89.22" r="1.35" fill="#9ca2ab" fill-opacity="0.6"/>
<circle cx="303.29" cy="93.24" r="1.35" fill="#9ca2ab" fill-opacity="0.6"/>
<circle cx="302.92" cy="90.08" r="1.35" fill="#9ca2ab" fill-opacity="0.6"/>
<circle cx="302.85" cy="87.62" r="1.35" fill="#9ca2ab" fill-opacity="0.6"/>
<circle cx="305.80" cy="88.04" r="1.35" fill="#9ca2ab" fill-opacity="0.6"/>
<circle cx="307.93" cy="87.94" r="1.35" fill="#9ca2ab" fill-opacity="0.6"/>
<circle cx="307.04" cy="92.60" r="1.35" fill="#9ca2ab" fill-opacity="0.6"/>
<path d="M218.80,64.70 C219.15,65.47 219.77,68.15 220.90,69.30 C222.03,70.45 223.42,71.22 225.60,71.60 C227.78,71.98 231.22,71.52 234.00,71.60 C236.78,71.68 239.82,72.23 242.30,72.10 C244.78,71.97 246.97,71.22 248.90,70.80 C250.83,70.38 252.23,69.47 253.90,69.60 C255.57,69.73 257.23,70.43 258.90,71.60 C260.57,72.77 261.97,75.22 263.90,76.60 C265.83,77.98 268.10,79.40 270.50,79.90 C272.90,80.40 275.62,79.32 278.30,79.60 C280.98,79.88 284.10,81.05 286.60,81.60 C289.10,82.15 291.35,83.18 293.30,82.90 C295.25,82.62 296.37,81.23 298.30,79.90 C300.23,78.57 302.97,75.45 304.90,74.90 C306.83,74.35 308.23,75.48 309.90,76.60 C311.57,77.72 313.23,80.35 314.90,81.60 C316.57,82.85 318.52,83.55 319.90,84.10 C321.28,84.65 322.65,84.77 323.20,84.90" fill="none" stroke="#a61b3c" stroke-width="1.5" stroke-dasharray="3 2.2" stroke-linecap="butt"/>
<path d="M218.80,88.20 C219.15,88.67 219.85,90.23 220.90,91.00 C221.95,91.77 224.03,92.28 225.10,92.80 C226.17,93.32 225.55,94.03 227.30,94.10 C229.05,94.17 232.83,93.62 235.60,93.20 C238.37,92.78 241.13,92.43 243.90,91.60 C246.67,90.77 249.98,88.77 252.20,88.20 C254.42,87.63 255.53,87.78 257.20,88.20 C258.87,88.62 260.53,89.72 262.20,90.70 C263.87,91.68 265.23,93.30 267.20,94.10 C269.17,94.90 272.20,95.30 274.00,95.50 C275.80,95.70 276.17,94.98 278.00,95.30 C279.83,95.62 282.45,96.87 285.00,97.40 C287.55,97.93 290.82,98.92 293.30,98.50 C295.78,98.08 297.95,96.07 299.90,94.90 C301.85,93.73 303.62,92.32 305.00,91.50 C306.38,90.68 307.12,89.83 308.20,90.00 C309.28,90.17 310.38,91.12 311.50,92.50 C312.62,93.88 313.98,96.22 314.90,98.30 C315.82,100.38 316.30,102.68 317.00,105.00 C317.70,107.32 318.43,109.70 319.10,112.20 C319.77,114.70 320.32,117.23 321.00,120.00 C321.68,122.77 322.83,127.33 323.20,128.80" fill="none" stroke="#a61b3c" stroke-width="1.5" stroke-dasharray="3 2.2" stroke-linecap="butt"/>
<path d="M219.50,79.20 C220.25,79.47 222.15,80.32 224.00,80.80 C225.85,81.28 228.38,81.83 230.60,82.10 C232.82,82.37 235.08,82.48 237.30,82.40 C239.52,82.32 241.68,82.07 243.90,81.60 C246.12,81.13 248.67,80.02 250.60,79.60 C252.53,79.18 254.12,78.90 255.50,79.10 C256.88,79.30 257.50,79.83 258.90,80.80 C260.30,81.77 262.25,83.80 263.90,84.90 C265.55,86.00 267.12,86.85 268.80,87.40 C270.48,87.95 272.70,88.07 274.00,88.20 C275.30,88.33 275.05,88.05 276.60,88.20 C278.15,88.35 281.08,88.68 283.30,89.10 C285.52,89.52 287.97,90.48 289.90,90.70 C291.83,90.92 293.23,90.95 294.90,90.40 C296.57,89.85 298.23,88.53 299.90,87.40 C301.57,86.27 303.33,84.10 304.90,83.60 C306.47,83.10 308.15,83.95 309.30,84.40 C310.45,84.85 310.95,85.37 311.80,86.30 C312.65,87.23 313.53,88.63 314.40,90.00 C315.27,91.37 316.15,93.00 317.00,94.50 C317.85,96.00 318.75,97.58 319.50,99.00 C320.25,100.42 320.83,101.53 321.50,103.00 C322.17,104.47 323.17,107.00 323.50,107.80" fill="none" stroke="#214872" stroke-width="1.8" stroke-linecap="butt"/>
<path d="M388.00,111.80 C388.42,110.67 389.57,107.07 390.50,105.00 C391.43,102.93 392.57,101.07 393.60,99.40 C394.63,97.73 395.80,96.07 396.70,95.00 C397.60,93.93 397.95,93.78 399.00,93.00 C400.05,92.22 401.42,91.27 403.00,90.30 C404.58,89.33 406.67,88.05 408.50,87.20 C410.33,86.35 412.33,85.82 414.00,85.20 C415.67,84.58 417.32,84.20 418.50,83.50 C419.68,82.80 419.75,82.80 421.10,81.00 C422.45,79.20 424.75,75.23 426.60,72.70 C428.45,70.17 430.35,67.65 432.20,65.80 C434.05,63.95 435.87,62.75 437.70,61.60 C439.53,60.45 441.12,59.82 443.20,58.90 C445.28,57.98 448.23,56.87 450.20,56.10 C452.17,55.33 452.88,54.40 455.00,54.30 C457.12,54.20 460.48,54.63 462.90,55.50 C465.32,56.37 467.53,58.48 469.50,59.50 C471.47,60.52 472.95,62.05 474.70,61.60 C476.45,61.15 478.47,58.92 480.00,56.80 C481.53,54.68 482.58,52.40 483.90,48.90 C485.22,45.40 486.67,39.73 487.90,35.80 C489.13,31.87 490.73,27.05 491.30,25.30" fill="none" stroke="#f8e1e6" stroke-width="3.9" stroke-linecap="round" stroke-linejoin="round" opacity="0.8"/>
<path d="M388.60,136.10 C388.82,135.17 389.27,132.47 389.90,130.50 C390.53,128.53 391.47,126.07 392.40,124.30 C393.33,122.53 394.37,121.25 395.50,119.90 C396.63,118.55 397.85,117.43 399.20,116.20 C400.55,114.97 402.15,113.53 403.60,112.50 C405.05,111.47 406.33,110.73 407.90,110.00 C409.47,109.27 411.05,108.68 413.00,108.10 C414.95,107.52 418.02,107.35 419.60,106.50 C421.18,105.65 421.60,104.25 422.50,103.00 C423.40,101.75 424.08,100.25 425.00,99.00 C425.92,97.75 426.92,96.62 428.00,95.50 C429.08,94.38 429.88,93.15 431.50,92.30 C433.12,91.45 435.28,90.78 437.70,90.40 C440.12,90.02 443.23,90.07 446.00,90.00 C448.77,89.93 451.97,89.90 454.30,90.00 C456.63,90.10 458.13,90.20 460.00,90.60 C461.87,91.00 463.27,91.88 465.50,92.40 C467.73,92.92 470.98,93.13 473.40,93.70 C475.82,94.27 478.25,94.70 480.00,95.80 C481.75,96.90 482.58,98.68 483.90,100.30 C485.22,101.92 486.67,103.97 487.90,105.50 C489.13,107.03 490.73,108.83 491.30,109.50" fill="none" stroke="#f8e1e6" stroke-width="3.9" stroke-linecap="round" stroke-linejoin="round" opacity="0.8"/>
<path d="M387.40,126.20 C387.70,125.17 388.37,122.08 389.20,120.00 C390.03,117.92 391.35,115.58 392.40,113.70 C393.45,111.82 394.15,110.47 395.50,108.70 C396.85,106.93 398.85,104.65 400.50,103.10 C402.15,101.55 403.75,100.42 405.40,99.40 C407.05,98.38 408.97,97.47 410.40,97.00 C411.83,96.53 412.82,96.73 414.00,96.60 C415.18,96.47 416.42,96.55 417.50,96.20 C418.58,95.85 419.43,95.62 420.50,94.50 C421.57,93.38 422.65,91.28 423.90,89.50 C425.15,87.72 426.62,85.45 428.00,83.80 C429.38,82.15 430.58,80.75 432.20,79.60 C433.82,78.45 435.63,77.70 437.70,76.90 C439.77,76.10 442.28,75.38 444.60,74.80 C446.92,74.22 449.52,73.75 451.60,73.40 C453.68,73.05 455.22,72.62 457.10,72.70 C458.98,72.78 460.83,73.25 462.90,73.90 C464.97,74.55 467.32,75.93 469.50,76.60 C471.68,77.27 474.03,78.03 476.00,77.90 C477.97,77.77 479.53,76.77 481.30,75.80 C483.07,74.83 484.93,73.50 486.60,72.10 C488.27,70.70 490.52,68.18 491.30,67.40" fill="none" stroke="#d6e8f3" stroke-width="4.0" stroke-linecap="round" stroke-linejoin="round" opacity="0.8"/>
<circle cx="418.5" cy="79.4" r="1.6" fill="#8e9297"/>
<circle cx="419.6" cy="81.6" r="1.6" fill="#8e9297"/>
<circle cx="420.7" cy="86.1" r="1.6" fill="#8e9297"/>
<circle cx="416.2" cy="85" r="1.6" fill="#8e9297"/>
<circle cx="411.4" cy="81.7" r="1.6" fill="#8e9297"/>
<circle cx="418.3" cy="81" r="1.6" fill="#8e9297"/>
<circle cx="421.1" cy="86.6" r="1.6" fill="#8e9297"/>
<circle cx="423.9" cy="78.2" r="1.6" fill="#8e9297"/>
<circle cx="428" cy="75.5" r="1.6" fill="#8e9297"/>
<circle cx="434.2" cy="70.6" r="1.6" fill="#8e9297"/>
<circle cx="437.7" cy="72" r="1.6" fill="#8e9297"/>
<circle cx="442.5" cy="69.9" r="1.6" fill="#8e9297"/>
<circle cx="446" cy="70.6" r="1.6" fill="#8e9297"/>
<circle cx="450.9" cy="67.9" r="1.6" fill="#8e9297"/>
<circle cx="453.6" cy="65.8" r="1.6" fill="#8e9297"/>
<circle cx="426.6" cy="81.7" r="1.6" fill="#8e9297"/>
<circle cx="434.2" cy="74.1" r="1.6" fill="#8e9297"/>
<circle cx="455" cy="66" r="1.6" fill="#8e9297"/>
<circle cx="462.9" cy="68.7" r="1.6" fill="#8e9297"/>
<circle cx="465.5" cy="71.3" r="1.6" fill="#8e9297"/>
<circle cx="470.8" cy="70" r="1.6" fill="#8e9297"/>
<circle cx="477.4" cy="69.5" r="1.6" fill="#8e9297"/>
<circle cx="491.8" cy="62.1" r="1.6" fill="#8e9297"/>
<circle cx="406.3" cy="92.7" r="1.6" fill="#8e9297"/>
<circle cx="407.4" cy="93.8" r="1.6" fill="#8e9297"/>
<circle cx="389.6" cy="100" r="1.6" fill="#8e9297"/>
<circle cx="393" cy="96" r="1.6" fill="#8e9297"/>
<circle cx="396.3" cy="93.8" r="1.6" fill="#8e9297"/>
<circle cx="398.5" cy="91.6" r="1.6" fill="#8e9297"/>
<circle cx="389" cy="97.2" r="1.6" fill="#8e9297"/>
<circle cx="388.6" cy="100.10000000000001" r="1.6" fill="#8e9297"/>
<circle cx="390.2" cy="96.0" r="1.6" fill="#8e9297"/>
<circle cx="391.9" cy="93.9" r="1.6" fill="#8e9297"/>
<circle cx="391.1" cy="97.60000000000001" r="1.6" fill="#8e9297"/>
<circle cx="393.1" cy="91.8" r="1.6" fill="#8e9297"/>
<circle cx="394" cy="90.2" r="1.6" fill="#8e9297"/>
<circle cx="395.2" cy="88.9" r="1.6" fill="#8e9297"/>
<circle cx="396.5" cy="87.7" r="1.6" fill="#8e9297"/>
<circle cx="397.7" cy="86.8" r="1.6" fill="#8e9297"/>
<circle cx="399.4" cy="86.4" r="1.6" fill="#8e9297"/>
<circle cx="400.6" cy="85.60000000000001" r="1.6" fill="#8e9297"/>
<circle cx="395.6" cy="92.7" r="1.6" fill="#8e9297"/>
<circle cx="397.3" cy="91.4" r="1.6" fill="#8e9297"/>
<circle cx="394" cy="94.3" r="1.6" fill="#8e9297"/>
<circle cx="403.1" cy="84.3" r="1.6" fill="#8e9297"/>
<circle cx="404.8" cy="83.5" r="1.6" fill="#8e9297"/>
<circle cx="406.4" cy="83.10000000000001" r="1.6" fill="#8e9297"/>
<circle cx="408.1" cy="82.3" r="1.6" fill="#8e9297"/>
<circle cx="409.8" cy="81.8" r="1.6" fill="#8e9297"/>
<circle cx="403.1" cy="86.8" r="1.6" fill="#8e9297"/>
<circle cx="405.2" cy="85.60000000000001" r="1.6" fill="#8e9297"/>
<circle cx="407.3" cy="94.7" r="1.6" fill="#8e9297"/>
<circle cx="389.4" cy="101.8" r="1.6" fill="#8e9297"/>
<circle cx="392.3" cy="95.2" r="1.6" fill="#8e9297"/>
<circle cx="390" cy="99.2" r="1.6" fill="#8e9297"/>
<circle cx="392.8" cy="93.2" r="1.6" fill="#8e9297"/>
<circle cx="398.8" cy="88.7" r="1.6" fill="#8e9297"/>
<circle cx="401.8" cy="86.0" r="1.6" fill="#8e9297"/>
<circle cx="411.5" cy="81.5" r="1.6" fill="#8e9297"/>
<circle cx="393.5" cy="96.2" r="1.6" fill="#8e9297"/>
<path d="M387.90,127.50 C388.35,126.65 389.40,124.45 390.60,122.40 C391.80,120.35 393.43,117.20 395.10,115.20 C396.77,113.20 398.75,111.60 400.60,110.40 C402.45,109.20 404.17,108.73 406.20,108.00 C408.23,107.27 410.40,106.83 412.80,106.00 C415.20,105.17 419.30,103.50 420.60,103.00" fill="none" stroke="#a0a5ad" stroke-width="4.2" stroke-linecap="round" stroke-linejoin="round"/>
<circle cx="387.07" cy="126.20" r="1.35" fill="#9ca2ab" fill-opacity="0.6"/>
<circle cx="387.35" cy="124.69" r="1.35" fill="#9ca2ab" fill-opacity="0.6"/>
<circle cx="391.21" cy="125.13" r="1.35" fill="#9ca2ab" fill-opacity="0.6"/>
<circle cx="391.17" cy="122.92" r="1.35" fill="#9ca2ab" fill-opacity="0.6"/>
<circle cx="390.37" cy="121.82" r="1.35" fill="#9ca2ab" fill-opacity="0.6"/>
<circle cx="392.35" cy="121.55" r="1.35" fill="#9ca2ab" fill-opacity="0.6"/>
<circle cx="393.40" cy="119.92" r="1.35" fill="#9ca2ab" fill-opacity="0.6"/>
<circle cx="392.20" cy="117.85" r="1.35" fill="#9ca2ab" fill-opacity="0.6"/>
<circle cx="395.77" cy="117.60" r="1.35" fill="#9ca2ab" fill-opacity="0.6"/>
<circle cx="395.98" cy="115.99" r="1.35" fill="#9ca2ab" fill-opacity="0.6"/>
<circle cx="396.60" cy="115.10" r="1.35" fill="#9ca2ab" fill-opacity="0.6"/>
<circle cx="396.49" cy="114.07" r="1.35" fill="#9ca2ab" fill-opacity="0.6"/>
<circle cx="396.51" cy="111.59" r="1.35" fill="#9ca2ab" fill-opacity="0.6"/>
<circle cx="397.88" cy="111.66" r="1.35" fill="#9ca2ab" fill-opacity="0.6"/>
<circle cx="400.27" cy="111.66" r="1.35" fill="#9ca2ab" fill-opacity="0.6"/>
<circle cx="401.86" cy="109.64" r="1.35" fill="#9ca2ab" fill-opacity="0.6"/>
<circle cx="404.04" cy="110.94" r="1.35" fill="#9ca2ab" fill-opacity="0.6"/>
<circle cx="404.53" cy="108.15" r="1.35" fill="#9ca2ab" fill-opacity="0.6"/>
<circle cx="404.70" cy="107.51" r="1.35" fill="#9ca2ab" fill-opacity="0.6"/>
<circle cx="406.13" cy="106.85" r="1.35" fill="#9ca2ab" fill-opacity="0.6"/>
<circle cx="408.78" cy="108.81" r="1.35" fill="#9ca2ab" fill-opacity="0.6"/>
<circle cx="409.93" cy="106.79" r="1.35" fill="#9ca2ab" fill-opacity="0.6"/>
<circle cx="411.35" cy="107.63" r="1.35" fill="#9ca2ab" fill-opacity="0.6"/>
<circle cx="411.77" cy="106.95" r="1.35" fill="#9ca2ab" fill-opacity="0.6"/>
<circle cx="414.37" cy="106.55" r="1.35" fill="#9ca2ab" fill-opacity="0.6"/>
<circle cx="415.05" cy="105.05" r="1.35" fill="#9ca2ab" fill-opacity="0.6"/>
<circle cx="416.03" cy="105.94" r="1.35" fill="#9ca2ab" fill-opacity="0.6"/>
<circle cx="417.54" cy="105.40" r="1.35" fill="#9ca2ab" fill-opacity="0.6"/>
<circle cx="419.12" cy="103.14" r="1.35" fill="#9ca2ab" fill-opacity="0.6"/>
<circle cx="420.43" cy="104.88" r="1.35" fill="#9ca2ab" fill-opacity="0.6"/>
<path d="M388.00,111.80 C388.42,110.67 389.57,107.07 390.50,105.00 C391.43,102.93 392.57,101.07 393.60,99.40 C394.63,97.73 395.80,96.07 396.70,95.00 C397.60,93.93 397.95,93.78 399.00,93.00 C400.05,92.22 401.42,91.27 403.00,90.30 C404.58,89.33 406.67,88.05 408.50,87.20 C410.33,86.35 412.33,85.82 414.00,85.20 C415.67,84.58 417.32,84.20 418.50,83.50 C419.68,82.80 419.75,82.80 421.10,81.00 C422.45,79.20 424.75,75.23 426.60,72.70 C428.45,70.17 430.35,67.65 432.20,65.80 C434.05,63.95 435.87,62.75 437.70,61.60 C439.53,60.45 441.12,59.82 443.20,58.90 C445.28,57.98 448.23,56.87 450.20,56.10 C452.17,55.33 452.88,54.40 455.00,54.30 C457.12,54.20 460.48,54.63 462.90,55.50 C465.32,56.37 467.53,58.48 469.50,59.50 C471.47,60.52 472.95,62.05 474.70,61.60 C476.45,61.15 478.47,58.92 480.00,56.80 C481.53,54.68 482.58,52.40 483.90,48.90 C485.22,45.40 486.67,39.73 487.90,35.80 C489.13,31.87 490.73,27.05 491.30,25.30" fill="none" stroke="#a61b3c" stroke-width="1.5" stroke-dasharray="3 2.2" stroke-linecap="butt"/>
<path d="M388.60,136.10 C388.82,135.17 389.27,132.47 389.90,130.50 C390.53,128.53 391.47,126.07 392.40,124.30 C393.33,122.53 394.37,121.25 395.50,119.90 C396.63,118.55 397.85,117.43 399.20,116.20 C400.55,114.97 402.15,113.53 403.60,112.50 C405.05,111.47 406.33,110.73 407.90,110.00 C409.47,109.27 411.05,108.68 413.00,108.10 C414.95,107.52 418.02,107.35 419.60,106.50 C421.18,105.65 421.60,104.25 422.50,103.00 C423.40,101.75 424.08,100.25 425.00,99.00 C425.92,97.75 426.92,96.62 428.00,95.50 C429.08,94.38 429.88,93.15 431.50,92.30 C433.12,91.45 435.28,90.78 437.70,90.40 C440.12,90.02 443.23,90.07 446.00,90.00 C448.77,89.93 451.97,89.90 454.30,90.00 C456.63,90.10 458.13,90.20 460.00,90.60 C461.87,91.00 463.27,91.88 465.50,92.40 C467.73,92.92 470.98,93.13 473.40,93.70 C475.82,94.27 478.25,94.70 480.00,95.80 C481.75,96.90 482.58,98.68 483.90,100.30 C485.22,101.92 486.67,103.97 487.90,105.50 C489.13,107.03 490.73,108.83 491.30,109.50" fill="none" stroke="#a61b3c" stroke-width="1.5" stroke-dasharray="3 2.2" stroke-linecap="butt"/>
<path d="M387.40,126.20 C387.70,125.17 388.37,122.08 389.20,120.00 C390.03,117.92 391.35,115.58 392.40,113.70 C393.45,111.82 394.15,110.47 395.50,108.70 C396.85,106.93 398.85,104.65 400.50,103.10 C402.15,101.55 403.75,100.42 405.40,99.40 C407.05,98.38 408.97,97.47 410.40,97.00 C411.83,96.53 412.82,96.73 414.00,96.60 C415.18,96.47 416.42,96.55 417.50,96.20 C418.58,95.85 419.43,95.62 420.50,94.50 C421.57,93.38 422.65,91.28 423.90,89.50 C425.15,87.72 426.62,85.45 428.00,83.80 C429.38,82.15 430.58,80.75 432.20,79.60 C433.82,78.45 435.63,77.70 437.70,76.90 C439.77,76.10 442.28,75.38 444.60,74.80 C446.92,74.22 449.52,73.75 451.60,73.40 C453.68,73.05 455.22,72.62 457.10,72.70 C458.98,72.78 460.83,73.25 462.90,73.90 C464.97,74.55 467.32,75.93 469.50,76.60 C471.68,77.27 474.03,78.03 476.00,77.90 C477.97,77.77 479.53,76.77 481.30,75.80 C483.07,74.83 484.93,73.50 486.60,72.10 C488.27,70.70 490.52,68.18 491.30,67.40" fill="none" stroke="#214872" stroke-width="1.8" stroke-linecap="butt"/>
<circle cx="78.3" cy="98.2" r="1.7" fill="#c0203a"/>
<path d="M46.4,211.0 V326.2 H166.9" fill="none" stroke="#1e1e1e" stroke-width="1.15"/>
<path d="M43.6,320.30 H46.4" stroke="#1e1e1e" stroke-width="0.8"/>
<text x="0" y="0" font-size="8.7" text-anchor="end" transform="translate(40.8 323.1) scale(0.9 1)" fill="#1c1c1c" stroke="#222" stroke-width="0.12">0.0</text>
<path d="M52.00,326.2 V329.3" stroke="#1e1e1e" stroke-width="0.8"/>
<text x="0" y="0" font-size="8.7" text-anchor="middle" transform="translate(52.0 339.4) scale(0.9 1)" fill="#1c1c1c" stroke="#222" stroke-width="0.12">0.0</text>
<path d="M43.6,299.52 H46.4" stroke="#1e1e1e" stroke-width="0.8"/>
<text x="0" y="0" font-size="8.7" text-anchor="end" transform="translate(40.8 302.32) scale(0.9 1)" fill="#1c1c1c" stroke="#222" stroke-width="0.12">0.2</text>
<path d="M74.00,326.2 V329.3" stroke="#1e1e1e" stroke-width="0.8"/>
<text x="0" y="0" font-size="8.7" text-anchor="middle" transform="translate(74.0 339.4) scale(0.9 1)" fill="#1c1c1c" stroke="#222" stroke-width="0.12">0.2</text>
<path d="M43.6,278.74 H46.4" stroke="#1e1e1e" stroke-width="0.8"/>
<text x="0" y="0" font-size="8.7" text-anchor="end" transform="translate(40.8 281.54) scale(0.9 1)" fill="#1c1c1c" stroke="#222" stroke-width="0.12">0.4</text>
<path d="M96.00,326.2 V329.3" stroke="#1e1e1e" stroke-width="0.8"/>
<text x="0" y="0" font-size="8.7" text-anchor="middle" transform="translate(96.0 339.4) scale(0.9 1)" fill="#1c1c1c" stroke="#222" stroke-width="0.12">0.4</text>
<path d="M43.6,257.96 H46.4" stroke="#1e1e1e" stroke-width="0.8"/>
<text x="0" y="0" font-size="8.7" text-anchor="end" transform="translate(40.8 260.76) scale(0.9 1)" fill="#1c1c1c" stroke="#222" stroke-width="0.12">0.6</text>
<path d="M118.00,326.2 V329.3" stroke="#1e1e1e" stroke-width="0.8"/>
<text x="0" y="0" font-size="8.7" text-anchor="middle" transform="translate(118.0 339.4) scale(0.9 1)" fill="#1c1c1c" stroke="#222" stroke-width="0.12">0.6</text>
<path d="M43.6,237.18 H46.4" stroke="#1e1e1e" stroke-width="0.8"/>
<text x="0" y="0" font-size="8.7" text-anchor="end" transform="translate(40.8 239.98) scale(0.9 1)" fill="#1c1c1c" stroke="#222" stroke-width="0.12">0.8</text>
<path d="M140.00,326.2 V329.3" stroke="#1e1e1e" stroke-width="0.8"/>
<text x="0" y="0" font-size="8.7" text-anchor="middle" transform="translate(140.0 339.4) scale(0.9 1)" fill="#1c1c1c" stroke="#222" stroke-width="0.12">0.8</text>
<path d="M43.6,216.40 H46.4" stroke="#1e1e1e" stroke-width="0.8"/>
<text x="0" y="0" font-size="8.7" text-anchor="end" transform="translate(40.8 219.2) scale(0.9 1)" fill="#1c1c1c" stroke="#222" stroke-width="0.12">1.0</text>
<path d="M162.00,326.2 V329.3" stroke="#1e1e1e" stroke-width="0.8"/>
<text x="0" y="0" font-size="8.7" text-anchor="middle" transform="translate(162.0 339.4) scale(0.9 1)" fill="#1c1c1c" stroke="#222" stroke-width="0.12">1.0</text>
<text x="107.0" y="351.4" font-size="8.8" text-anchor="middle" textLength="35.2" lengthAdjust="spacingAndGlyphs" fill="#1c1c1c" stroke="#1c1c1c" stroke-width="0.22">1-Specificity</text>
<text x="23.0" y="268.5" font-size="8.8" text-anchor="middle" textLength="29.6" lengthAdjust="spacingAndGlyphs" transform="rotate(-90 23.0 268.5)" fill="#1c1c1c" stroke="#1c1c1c" stroke-width="0.22">Sensitivity</text>
<path d="M66.9,316.2 H80.4" stroke="#214872" stroke-width="1.2"/>
<path d="M214.7,211.0 V326.2 H335.2" fill="none" stroke="#1e1e1e" stroke-width="1.15"/>
<path d="M211.89999999999998,320.30 H214.7" stroke="#1e1e1e" stroke-width="0.8"/>
<text x="0" y="0" font-size="8.7" text-anchor="end" transform="translate(209.1 323.1) scale(0.9 1)" fill="#1c1c1c" stroke="#222" stroke-width="0.12">0.0</text>
<path d="M219.90,326.2 V329.3" stroke="#1e1e1e" stroke-width="0.8"/>
<text x="0" y="0" font-size="8.7" text-anchor="middle" transform="translate(219.9 339.4) scale(0.9 1)" fill="#1c1c1c" stroke="#222" stroke-width="0.12">0.0</text>
<path d="M211.89999999999998,299.52 H214.7" stroke="#1e1e1e" stroke-width="0.8"/>
<text x="0" y="0" font-size="8.7" text-anchor="end" transform="translate(209.1 302.32) scale(0.9 1)" fill="#1c1c1c" stroke="#222" stroke-width="0.12">0.2</text>
<path d="M241.90,326.2 V329.3" stroke="#1e1e1e" stroke-width="0.8"/>
<text x="0" y="0" font-size="8.7" text-anchor="middle" transform="translate(241.9 339.4) scale(0.9 1)" fill="#1c1c1c" stroke="#222" stroke-width="0.12">0.2</text>
<path d="M211.89999999999998,278.74 H214.7" stroke="#1e1e1e" stroke-width="0.8"/>
<text x="0" y="0" font-size="8.7" text-anchor="end" transform="translate(209.1 281.54) scale(0.9 1)" fill="#1c1c1c" stroke="#222" stroke-width="0.12">0.4</text>
<path d="M263.90,326.2 V329.3" stroke="#1e1e1e" stroke-width="0.8"/>
<text x="0" y="0" font-size="8.7" text-anchor="middle" transform="translate(263.9 339.4) scale(0.9 1)" fill="#1c1c1c" stroke="#222" stroke-width="0.12">0.4</text>
<path d="M211.89999999999998,257.96 H214.7" stroke="#1e1e1e" stroke-width="0.8"/>
<text x="0" y="0" font-size="8.7" text-anchor="end" transform="translate(209.1 260.76) scale(0.9 1)" fill="#1c1c1c" stroke="#222" stroke-width="0.12">0.6</text>
<path d="M285.90,326.2 V329.3" stroke="#1e1e1e" stroke-width="0.8"/>
<text x="0" y="0" font-size="8.7" text-anchor="middle" transform="translate(285.9 339.4) scale(0.9 1)" fill="#1c1c1c" stroke="#222" stroke-width="0.12">0.6</text>
<path d="M211.89999999999998,237.18 H214.7" stroke="#1e1e1e" stroke-width="0.8"/>
<text x="0" y="0" font-size="8.7" text-anchor="end" transform="translate(209.1 239.98) scale(0.9 1)" fill="#1c1c1c" stroke="#222" stroke-width="0.12">0.8</text>
<path d="M307.90,326.2 V329.3" stroke="#1e1e1e" stroke-width="0.8"/>
<text x="0" y="0" font-size="8.7" text-anchor="middle" transform="translate(307.9 339.4) scale(0.9 1)" fill="#1c1c1c" stroke="#222" stroke-width="0.12">0.8</text>
<path d="M211.89999999999998,216.40 H214.7" stroke="#1e1e1e" stroke-width="0.8"/>
<text x="0" y="0" font-size="8.7" text-anchor="end" transform="translate(209.1 219.2) scale(0.9 1)" fill="#1c1c1c" stroke="#222" stroke-width="0.12">1.0</text>
<path d="M329.90,326.2 V329.3" stroke="#1e1e1e" stroke-width="0.8"/>
<text x="0" y="0" font-size="8.7" text-anchor="middle" transform="translate(329.9 339.4) scale(0.9 1)" fill="#1c1c1c" stroke="#222" stroke-width="0.12">1.0</text>
<text x="275.3" y="351.4" font-size="8.8" text-anchor="middle" textLength="35.2" lengthAdjust="spacingAndGlyphs" fill="#1c1c1c" stroke="#1c1c1c" stroke-width="0.22">1-Specificity</text>
<text x="191.29999999999998" y="268.5" font-size="8.8" text-anchor="middle" textLength="29.6" lengthAdjust="spacingAndGlyphs" transform="rotate(-90 191.29999999999998 268.5)" fill="#1c1c1c" stroke="#1c1c1c" stroke-width="0.22">Sensitivity</text>
<path d="M235.2,316.2 H248.7" stroke="#214872" stroke-width="1.2"/>
<path d="M382.9,211.0 V326.2 H503.4" fill="none" stroke="#1e1e1e" stroke-width="1.15"/>
<path d="M380.09999999999997,320.30 H382.9" stroke="#1e1e1e" stroke-width="0.8"/>
<text x="0" y="0" font-size="8.7" text-anchor="end" transform="translate(377.29999999999995 323.1) scale(0.9 1)" fill="#1c1c1c" stroke="#222" stroke-width="0.12">0.0</text>
<path d="M388.50,326.2 V329.3" stroke="#1e1e1e" stroke-width="0.8"/>
<text x="0" y="0" font-size="8.7" text-anchor="middle" transform="translate(388.5 339.4) scale(0.9 1)" fill="#1c1c1c" stroke="#222" stroke-width="0.12">0.0</text>
<path d="M380.09999999999997,299.52 H382.9" stroke="#1e1e1e" stroke-width="0.8"/>
<text x="0" y="0" font-size="8.7" text-anchor="end" transform="translate(377.29999999999995 302.32) scale(0.9 1)" fill="#1c1c1c" stroke="#222" stroke-width="0.12">0.2</text>
<path d="M410.50,326.2 V329.3" stroke="#1e1e1e" stroke-width="0.8"/>
<text x="0" y="0" font-size="8.7" text-anchor="middle" transform="translate(410.5 339.4) scale(0.9 1)" fill="#1c1c1c" stroke="#222" stroke-width="0.12">0.2</text>
<path d="M380.09999999999997,278.74 H382.9" stroke="#1e1e1e" stroke-width="0.8"/>
<text x="0" y="0" font-size="8.7" text-anchor="end" transform="translate(377.29999999999995 281.54) scale(0.9 1)" fill="#1c1c1c" stroke="#222" stroke-width="0.12">0.4</text>
<path d="M432.50,326.2 V329.3" stroke="#1e1e1e" stroke-width="0.8"/>
<text x="0" y="0" font-size="8.7" text-anchor="middle" transform="translate(432.5 339.4) scale(0.9 1)" fill="#1c1c1c" stroke="#222" stroke-width="0.12">0.4</text>
<path d="M380.09999999999997,257.96 H382.9" stroke="#1e1e1e" stroke-width="0.8"/>
<text x="0" y="0" font-size="8.7" text-anchor="end" transform="translate(377.29999999999995 260.76) scale(0.9 1)" fill="#1c1c1c" stroke="#222" stroke-width="0.12">0.6</text>
<path d="M454.50,326.2 V329.3" stroke="#1e1e1e" stroke-width="0.8"/>
<text x="0" y="0" font-size="8.7" text-anchor="middle" transform="translate(454.5 339.4) scale(0.9 1)" fill="#1c1c1c" stroke="#222" stroke-width="0.12">0.6</text>
<path d="M380.09999999999997,237.18 H382.9" stroke="#1e1e1e" stroke-width="0.8"/>
<text x="0" y="0" font-size="8.7" text-anchor="end" transform="translate(377.29999999999995 239.98) scale(0.9 1)" fill="#1c1c1c" stroke="#222" stroke-width="0.12">0.8</text>
<path d="M476.50,326.2 V329.3" stroke="#1e1e1e" stroke-width="0.8"/>
<text x="0" y="0" font-size="8.7" text-anchor="middle" transform="translate(476.5 339.4) scale(0.9 1)" fill="#1c1c1c" stroke="#222" stroke-width="0.12">0.8</text>
<path d="M380.09999999999997,216.40 H382.9" stroke="#1e1e1e" stroke-width="0.8"/>
<text x="0" y="0" font-size="8.7" text-anchor="end" transform="translate(377.29999999999995 219.2) scale(0.9 1)" fill="#1c1c1c" stroke="#222" stroke-width="0.12">1.0</text>
<path d="M498.50,326.2 V329.3" stroke="#1e1e1e" stroke-width="0.8"/>
<text x="0" y="0" font-size="8.7" text-anchor="middle" transform="translate(498.5 339.4) scale(0.9 1)" fill="#1c1c1c" stroke="#222" stroke-width="0.12">1.0</text>
<text x="443.5" y="351.4" font-size="8.8" text-anchor="middle" textLength="35.2" lengthAdjust="spacingAndGlyphs" fill="#1c1c1c" stroke="#1c1c1c" stroke-width="0.22">1-Specificity</text>
<text x="359.5" y="268.5" font-size="8.8" text-anchor="middle" textLength="29.6" lengthAdjust="spacingAndGlyphs" transform="rotate(-90 359.5 268.5)" fill="#1c1c1c" stroke="#1c1c1c" stroke-width="0.22">Sensitivity</text>
<path d="M403.4,316.2 H416.9" stroke="#214872" stroke-width="1.2"/>
<text x="107.6" y="205.0" font-size="9.6" text-anchor="middle" textLength="108.2" lengthAdjust="spacingAndGlyphs" fill="#262626" stroke="#262626" stroke-width="0.12">ROC [H3Cit-DNA + GFR]</text>
<text x="274.6" y="205.0" font-size="9.6" text-anchor="middle" textLength="106.8" lengthAdjust="spacingAndGlyphs" fill="#262626" stroke="#262626" stroke-width="0.12">ROC [H3Cit-DNA + CRP]</text>
<text x="443.3" y="205.0" font-size="9.6" text-anchor="middle" textLength="139.1" lengthAdjust="spacingAndGlyphs" fill="#262626" stroke="#262626" stroke-width="0.12">ROC [H3Cit-DNA + CRP + GFR]</text>
<text x="83.19999999999999" y="319.2" font-size="8.4" textLength="91.6" lengthAdjust="spacingAndGlyphs" fill="#262626" stroke="#262626" stroke-width="0.12">ROC curve (AUC = 0.787)</text>
<text x="250.7" y="319.2" font-size="8.4" textLength="91.6" lengthAdjust="spacingAndGlyphs" fill="#262626" stroke="#262626" stroke-width="0.12">ROC curve (AUC = 0.849)</text>
<text x="419.2" y="319.2" font-size="8.4" textLength="91.6" lengthAdjust="spacingAndGlyphs" fill="#262626" stroke="#262626" stroke-width="0.12">ROC curve (AUC = 0.866)</text>
<path d="M52.0,320.3 L162.0,216.4" stroke="#a61b3c" stroke-width="1.35" stroke-dasharray="3 2.2" fill="none"/>
<path d="M52.00,320.30 L52.10,312.00 L52.40,308.60 L52.60,303.00 L52.60,300.80 L53.20,300.80 L53.20,298.60 L54.00,298.60 L54.30,294.20 L54.30,292.55 L54.60,292.55 L54.60,290.90 L54.90,290.90 L55.40,287.50 L55.40,285.90 L55.75,285.90 L55.75,284.30 L56.10,284.30 L56.10,282.00 L57.20,282.00 L57.20,280.40 L58.60,280.40 L58.60,278.90 L59.50,278.90 L59.50,277.40 L60.40,277.40 L60.40,274.60 L61.80,274.60 L61.80,272.90 L62.50,272.90 L62.50,271.20 L63.20,271.20 L63.20,268.40 L63.90,268.40 L63.90,265.60 L65.20,265.60 L65.20,263.50 L67.30,263.50 L67.30,261.50 L69.40,261.50 L69.40,258.70 L70.80,258.70 L70.80,255.90 L72.20,255.90 L72.20,254.20 L72.85,254.20 L72.85,252.50 L73.50,252.50 L73.50,251.10 L74.90,251.10 L74.90,250.40 L77.70,250.40 L77.70,249.70 L79.80,249.70 L79.80,248.30 L81.90,248.30 L81.90,246.90 L83.90,246.90 L83.90,244.80 L86.00,244.80 L86.00,244.50 L88.00,244.50 L88.00,244.20 L90.00,244.20 L90.00,242.40 L91.70,242.40 L91.70,240.90 L93.40,240.90 L104.00,240.90 L104.60,236.10 L104.60,233.30 L106.40,233.30 L106.40,231.50 L107.30,231.50 L107.30,229.70 L108.20,229.70 L108.20,229.40 L110.03,229.40 L110.03,229.10 L111.87,229.10 L111.87,228.80 L113.70,228.80 L113.70,226.60 L115.50,226.60 L115.50,225.10 L118.30,225.10 L118.30,223.30 L121.00,223.30 L121.00,222.40 L123.80,222.40 L123.80,221.75 L125.60,221.75 L125.60,221.10 L127.40,221.10 L127.40,219.60 L130.20,219.60 L130.20,218.70 L132.90,218.70 L132.90,217.40 L135.60,217.40 L135.60,216.40 L138.40,216.40 L162.00,216.40" fill="none" stroke="#d6e8f3" stroke-width="3.6" stroke-linejoin="round" opacity="0.8"/>
<path d="M52.00,320.30 L52.10,312.00 L52.40,308.60 L52.60,303.00 L52.60,300.80 L53.20,300.80 L53.20,298.60 L54.00,298.60 L54.30,294.20 L54.30,292.55 L54.60,292.55 L54.60,290.90 L54.90,290.90 L55.40,287.50 L55.40,285.90 L55.75,285.90 L55.75,284.30 L56.10,284.30 L56.10,282.00 L57.20,282.00 L57.20,280.40 L58.60,280.40 L58.60,278.90 L59.50,278.90 L59.50,277.40 L60.40,277.40 L60.40,274.60 L61.80,274.60 L61.80,272.90 L62.50,272.90 L62.50,271.20 L63.20,271.20 L63.20,268.40 L63.90,268.40 L63.90,265.60 L65.20,265.60 L65.20,263.50 L67.30,263.50 L67.30,261.50 L69.40,261.50 L69.40,258.70 L70.80,258.70 L70.80,255.90 L72.20,255.90 L72.20,254.20 L72.85,254.20 L72.85,252.50 L73.50,252.50 L73.50,251.10 L74.90,251.10 L74.90,250.40 L77.70,250.40 L77.70,249.70 L79.80,249.70 L79.80,248.30 L81.90,248.30 L81.90,246.90 L83.90,246.90 L83.90,244.80 L86.00,244.80 L86.00,244.50 L88.00,244.50 L88.00,244.20 L90.00,244.20 L90.00,242.40 L91.70,242.40 L91.70,240.90 L93.40,240.90 L104.00,240.90 L104.60,236.10 L104.60,233.30 L106.40,233.30 L106.40,231.50 L107.30,231.50 L107.30,229.70 L108.20,229.70 L108.20,229.40 L110.03,229.40 L110.03,229.10 L111.87,229.10 L111.87,228.80 L113.70,228.80 L113.70,226.60 L115.50,226.60 L115.50,225.10 L118.30,225.10 L118.30,223.30 L121.00,223.30 L121.00,222.40 L123.80,222.40 L123.80,221.75 L125.60,221.75 L125.60,221.10 L127.40,221.10 L127.40,219.60 L130.20,219.60 L130.20,218.70 L132.90,218.70 L132.90,217.40 L135.60,217.40 L135.60,216.40 L138.40,216.40 L162.00,216.40" fill="none" stroke="#214872" stroke-width="1.35" stroke-linejoin="miter"/>
<path d="M219.9,320.3 L329.9,216.4" stroke="#a61b3c" stroke-width="1.35" stroke-dasharray="3 2.2" fill="none"/>
<path d="M219.90,320.30 L219.80,309.70 L219.80,302.00 L220.10,295.30 L220.60,289.80 L221.20,287.00 L221.20,285.90 L221.80,285.90 L221.90,282.00 L222.20,280.50 L222.20,278.80 L222.50,278.80 L222.50,277.10 L222.80,277.10 L223.30,274.40 L223.60,271.60 L223.60,268.80 L224.40,268.80 L224.40,267.15 L224.95,267.15 L224.95,265.50 L225.50,265.50 L225.50,262.70 L226.60,262.70 L226.60,261.05 L227.15,261.05 L227.15,259.40 L227.70,259.40 L227.70,256.60 L228.90,256.60 L228.90,255.50 L230.50,255.50 L232.20,255.00 L232.20,253.30 L233.30,253.30 L233.30,251.10 L234.90,251.10 L234.90,248.90 L236.10,248.90 L238.30,248.30 L240.50,247.80 L240.50,245.60 L241.60,245.60 L241.60,244.05 L242.90,244.05 L242.90,242.50 L244.20,242.50 L244.20,239.70 L246.90,239.70 L246.90,237.50 L249.60,237.50 L253.30,237.00 L253.30,236.55 L255.15,236.55 L255.15,236.10 L257.00,236.10 L257.00,233.80 L257.90,233.80 L257.90,231.50 L258.80,231.50 L258.80,229.20 L260.00,229.20 L260.00,226.90 L261.20,226.90 L261.20,226.45 L262.75,226.45 L262.75,226.00 L264.30,226.00 L264.30,224.40 L267.00,224.40 L273.30,224.40 L273.30,221.80 L274.60,221.80 L316.60,221.80 L316.60,220.00 L318.40,220.00 L318.40,219.65 L320.25,219.65 L320.25,219.30 L322.10,219.30 L322.10,216.90 L323.90,216.90 L329.90,216.40" fill="none" stroke="#d6e8f3" stroke-width="3.6" stroke-linejoin="round" opacity="0.8"/>
<path d="M219.90,320.30 L219.80,309.70 L219.80,302.00 L220.10,295.30 L220.60,289.80 L221.20,287.00 L221.20,285.90 L221.80,285.90 L221.90,282.00 L222.20,280.50 L222.20,278.80 L222.50,278.80 L222.50,277.10 L222.80,277.10 L223.30,274.40 L223.60,271.60 L223.60,268.80 L224.40,268.80 L224.40,267.15 L224.95,267.15 L224.95,265.50 L225.50,265.50 L225.50,262.70 L226.60,262.70 L226.60,261.05 L227.15,261.05 L227.15,259.40 L227.70,259.40 L227.70,256.60 L228.90,256.60 L228.90,255.50 L230.50,255.50 L232.20,255.00 L232.20,253.30 L233.30,253.30 L233.30,251.10 L234.90,251.10 L234.90,248.90 L236.10,248.90 L238.30,248.30 L240.50,247.80 L240.50,245.60 L241.60,245.60 L241.60,244.05 L242.90,244.05 L242.90,242.50 L244.20,242.50 L244.20,239.70 L246.90,239.70 L246.90,237.50 L249.60,237.50 L253.30,237.00 L253.30,236.55 L255.15,236.55 L255.15,236.10 L257.00,236.10 L257.00,233.80 L257.90,233.80 L257.90,231.50 L258.80,231.50 L258.80,229.20 L260.00,229.20 L260.00,226.90 L261.20,226.90 L261.20,226.45 L262.75,226.45 L262.75,226.00 L264.30,226.00 L264.30,224.40 L267.00,224.40 L273.30,224.40 L273.30,221.80 L274.60,221.80 L316.60,221.80 L316.60,220.00 L318.40,220.00 L318.40,219.65 L320.25,219.65 L320.25,219.30 L322.10,219.30 L322.10,216.90 L323.90,216.90 L329.90,216.40" fill="none" stroke="#214872" stroke-width="1.35" stroke-linejoin="miter"/>
<path d="M388.5,320.3 L498.5,216.4" stroke="#a61b3c" stroke-width="1.35" stroke-dasharray="3 2.2" fill="none"/>
<path d="M388.50,320.30 L388.40,309.70 L388.60,298.60 L388.90,290.90 L389.20,285.30 L389.40,280.50 L389.90,277.10 L389.90,275.50 L390.80,275.50 L390.80,273.80 L391.90,273.80 L391.90,271.60 L393.00,271.60 L393.20,267.20 L393.50,262.70 L393.50,260.50 L394.10,260.50 L394.10,259.20 L395.70,259.20 L395.70,258.30 L397.40,258.30 L397.40,256.60 L399.10,256.60 L399.10,255.00 L399.80,255.00 L400.20,251.60 L400.50,247.20 L400.70,245.00 L400.70,243.00 L402.20,243.00 L402.20,240.60 L404.90,240.60 L404.90,240.42 L406.92,240.42 L406.92,240.24 L408.94,240.24 L408.94,240.06 L410.96,240.06 L410.96,239.88 L412.98,239.88 L412.98,239.70 L415.00,239.70 L415.00,237.90 L415.65,237.90 L415.65,236.10 L416.30,236.10 L416.30,235.50 L418.00,235.50 L418.00,234.90 L419.70,234.90 L419.70,234.30 L421.40,234.30 L421.40,232.10 L422.90,232.10 L422.90,230.90 L424.45,230.90 L424.45,229.70 L426.00,229.70 L426.00,227.30 L428.30,227.30 L428.30,226.65 L430.35,226.65 L430.35,226.00 L432.40,226.00 L432.40,224.90 L434.20,224.90 L446.40,224.90 L446.40,223.30 L447.30,223.30 L457.40,223.30 L457.40,221.65 L457.85,221.65 L457.85,220.00 L458.30,220.00 L490.30,220.00 L490.30,218.45 L490.75,218.45 L490.75,216.90 L491.20,216.90 L498.50,216.40" fill="none" stroke="#d6e8f3" stroke-width="3.6" stroke-linejoin="round" opacity="0.8"/>
<path d="M388.50,320.30 L388.40,309.70 L388.60,298.60 L388.90,290.90 L389.20,285.30 L389.40,280.50 L389.90,277.10 L389.90,275.50 L390.80,275.50 L390.80,273.80 L391.90,273.80 L391.90,271.60 L393.00,271.60 L393.20,267.20 L393.50,262.70 L393.50,260.50 L394.10,260.50 L394.10,259.20 L395.70,259.20 L395.70,258.30 L397.40,258.30 L397.40,256.60 L399.10,256.60 L399.10,255.00 L399.80,255.00 L400.20,251.60 L400.50,247.20 L400.70,245.00 L400.70,243.00 L402.20,243.00 L402.20,240.60 L404.90,240.60 L404.90,240.42 L406.92,240.42 L406.92,240.24 L408.94,240.24 L408.94,240.06 L410.96,240.06 L410.96,239.88 L412.98,239.88 L412.98,239.70 L415.00,239.70 L415.00,237.90 L415.65,237.90 L415.65,236.10 L416.30,236.10 L416.30,235.50 L418.00,235.50 L418.00,234.90 L419.70,234.90 L419.70,234.30 L421.40,234.30 L421.40,232.10 L422.90,232.10 L422.90,230.90 L424.45,230.90 L424.45,229.70 L426.00,229.70 L426.00,227.30 L428.30,227.30 L428.30,226.65 L430.35,226.65 L430.35,226.00 L432.40,226.00 L432.40,224.90 L434.20,224.90 L446.40,224.90 L446.40,223.30 L447.30,223.30 L457.40,223.30 L457.40,221.65 L457.85,221.65 L457.85,220.00 L458.30,220.00 L490.30,220.00 L490.30,218.45 L490.75,218.45 L490.75,216.90 L491.20,216.90 L498.50,216.40" fill="none" stroke="#214872" stroke-width="1.35" stroke-linejoin="miter"/>
<text x="6.5" y="16.2" font-size="11.9" font-weight="bold" fill="#111" stroke="#111" stroke-width="0.25">A</text>
<text x="6.8" y="191.6" font-size="12.0" font-weight="bold" fill="#111" stroke="#111" stroke-width="0.25">B</text>
</g>
<rect x="0.5" y="0.5" width="519" height="360" fill="none" stroke="#4d4d4d" stroke-width="1"/>
</svg>
</body></html>
